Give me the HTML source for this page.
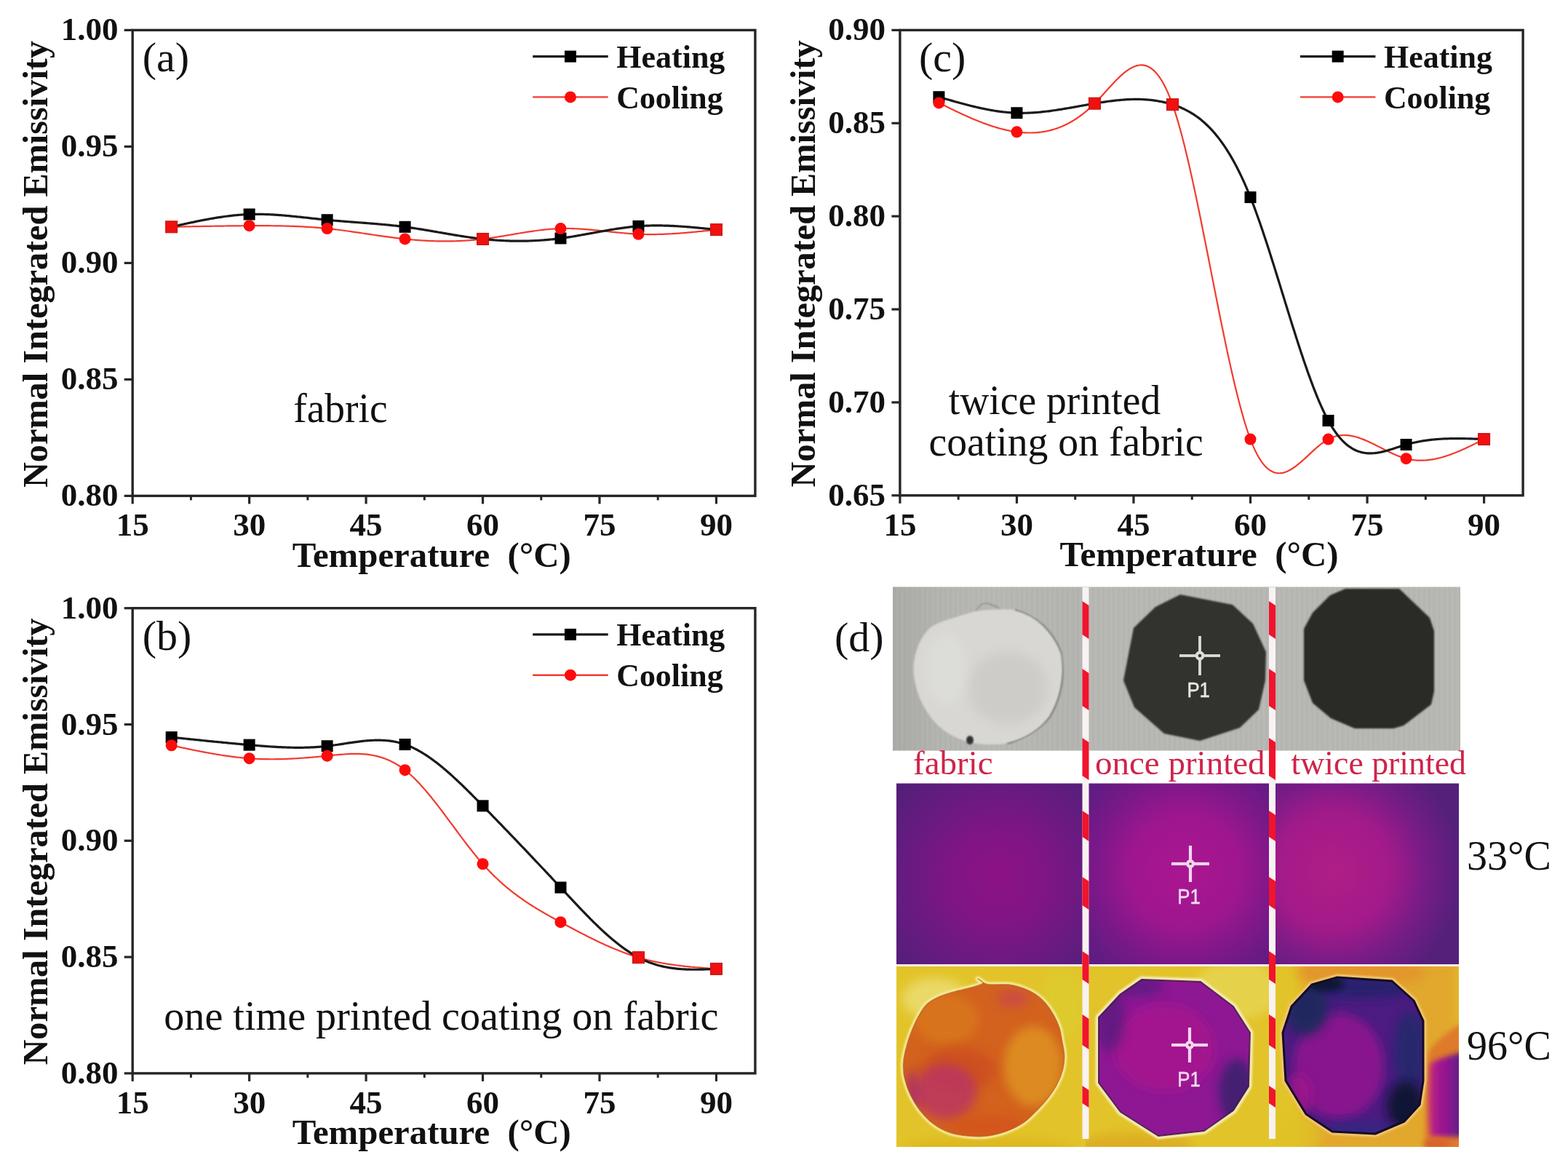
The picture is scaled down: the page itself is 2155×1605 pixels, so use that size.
<!DOCTYPE html>
<html><head><meta charset="utf-8"><title>Emissivity figure</title><style>
html,body{margin:0;padding:0;background:#fff;}
svg{display:block;}
.tk{font-family:"Liberation Serif", "Times New Roman", serif;font-weight:bold;font-size:45px;fill:#111;}
.xt{font-family:"Liberation Serif", "Times New Roman", serif;font-weight:bold;font-size:48px;fill:#111;}
.yt{font-family:"Liberation Serif", "Times New Roman", serif;font-weight:bold;font-size:48px;fill:#111;}
.pl{font-family:"Liberation Serif", "Times New Roman", serif;font-size:58px;fill:#111;}
.lg{font-family:"Liberation Serif", "Times New Roman", serif;font-weight:bold;font-size:45px;fill:#111;}
.nt{font-family:"Liberation Serif", "Times New Roman", serif;font-size:57px;fill:#111;}
.dl{font-family:"Liberation Serif", "Times New Roman", serif;font-size:47px;fill:#cf2449;}
.tl{font-family:"Liberation Serif", "Times New Roman", serif;font-size:56px;fill:#111;}
.p1{font-family:"Liberation Sans", Arial, sans-serif;font-size:30px;fill:#e6e6e6;stroke:#e6e6e6;stroke-width:0.5px;}
</style></head><body>
<svg width="2155" height="1605" viewBox="0 0 2155 1605">
<rect width="2155" height="1605" fill="#fff"/>
<path d="M235.68,311.80 L237.56,311.76 L239.43,311.73 L241.31,311.69 L243.19,311.65 L245.06,311.61 L246.94,311.58 L248.82,311.54 L250.69,311.50 L252.57,311.47 L254.45,311.43 L256.32,311.39 L258.20,311.36 L260.08,311.32 L261.95,311.28 L263.83,311.25 L265.71,311.21 L267.58,311.18 L269.46,311.14 L271.34,311.11 L273.21,311.07 L275.09,311.04 L276.97,311.01 L278.84,310.97 L280.72,310.94 L282.59,310.91 L284.47,310.88 L286.35,310.85 L288.22,310.82 L290.10,310.79 L291.98,310.76 L293.85,310.73 L295.73,310.70 L297.61,310.67 L299.48,310.64 L301.36,310.61 L303.24,310.59 L305.11,310.56 L306.99,310.54 L308.87,310.51 L310.74,310.49 L312.62,310.46 L314.50,310.44 L316.37,310.42 L318.25,310.40 L320.13,310.38 L322.00,310.36 L323.88,310.34 L325.75,310.32 L327.63,310.31 L329.51,310.29 L331.38,310.27 L333.26,310.26 L335.14,310.25 L337.01,310.23 L338.89,310.22 L340.77,310.21 L342.64,310.20 L344.52,310.19 L346.40,310.18 L348.27,310.18 L350.15,310.17 L352.03,310.17 L353.90,310.16 L355.78,310.16 L357.66,310.16 L359.53,310.17 L361.41,310.17 L363.29,310.18 L365.16,310.18 L367.04,310.19 L368.92,310.21 L370.79,310.22 L372.67,310.24 L374.54,310.26 L376.42,310.28 L378.30,310.30 L380.17,310.33 L382.05,310.36 L383.93,310.39 L385.80,310.43 L387.68,310.46 L389.56,310.51 L391.43,310.55 L393.31,310.60 L395.19,310.65 L397.06,310.71 L398.94,310.76 L400.82,310.83 L402.69,310.89 L404.57,310.96 L406.45,311.04 L408.32,311.12 L410.20,311.20 L412.08,311.28 L413.95,311.38 L415.83,311.47 L417.71,311.57 L419.58,311.67 L421.46,311.78 L423.33,311.90 L425.21,312.02 L427.09,312.14 L428.96,312.27 L430.84,312.40 L432.72,312.54 L434.59,312.68 L436.47,312.83 L438.35,312.99 L440.22,313.15 L442.10,313.32 L443.98,313.49 L445.85,313.67 L447.73,313.85 L449.61,314.04 L451.48,314.24 L453.36,314.44 L455.24,314.65 L457.11,314.86 L458.99,315.08 L460.87,315.30 L462.74,315.53 L464.62,315.76 L466.50,316.00 L468.37,316.24 L470.25,316.49 L472.12,316.73 L474.00,316.99 L475.88,317.24 L477.75,317.50 L479.63,317.77 L481.51,318.03 L483.38,318.30 L485.26,318.57 L487.14,318.84 L489.01,319.11 L490.89,319.39 L492.77,319.67 L494.64,319.94 L496.52,320.22 L498.40,320.50 L500.27,320.78 L502.15,321.07 L504.03,321.35 L505.90,321.63 L507.78,321.91 L509.66,322.19 L511.53,322.47 L513.41,322.75 L515.28,323.03 L517.16,323.30 L519.04,323.58 L520.91,323.85 L522.79,324.12 L524.67,324.39 L526.54,324.66 L528.42,324.92 L530.30,325.19 L532.17,325.45 L534.05,325.70 L535.93,325.95 L537.80,326.20 L539.68,326.45 L541.56,326.69 L543.43,326.92 L545.31,327.15 L547.19,327.38 L549.06,327.60 L550.94,327.82 L552.82,328.03 L554.69,328.24 L556.57,328.44 L558.45,328.63 L560.32,328.82 L562.20,329.01 L564.07,329.18 L565.95,329.35 L567.83,329.52 L569.70,329.67 L571.58,329.83 L573.46,329.97 L575.33,330.11 L577.21,330.24 L579.09,330.37 L580.96,330.49 L582.84,330.60 L584.72,330.71 L586.59,330.80 L588.47,330.90 L590.35,330.98 L592.22,331.06 L594.10,331.13 L595.98,331.20 L597.85,331.26 L599.73,331.31 L601.61,331.35 L603.48,331.39 L605.36,331.41 L607.24,331.44 L609.11,331.45 L610.99,331.46 L612.86,331.46 L614.74,331.45 L616.62,331.43 L618.49,331.41 L620.37,331.38 L622.25,331.34 L624.12,331.30 L626.00,331.24 L627.88,331.18 L629.75,331.11 L631.63,331.03 L633.51,330.95 L635.38,330.85 L637.26,330.75 L639.14,330.64 L641.01,330.52 L642.89,330.39 L644.77,330.26 L646.64,330.12 L648.52,329.96 L650.40,329.80 L652.27,329.64 L654.15,329.46 L656.03,329.27 L657.90,329.08 L659.78,328.87 L661.65,328.66 L663.53,328.44 L665.41,328.21 L667.28,327.97 L669.16,327.73 L671.04,327.47 L672.91,327.21 L674.79,326.94 L676.67,326.67 L678.54,326.39 L680.42,326.10 L682.30,325.81 L684.17,325.51 L686.05,325.21 L687.93,324.91 L689.80,324.60 L691.68,324.29 L693.56,323.98 L695.43,323.66 L697.31,323.35 L699.19,323.03 L701.06,322.71 L702.94,322.39 L704.82,322.07 L706.69,321.75 L708.57,321.43 L710.44,321.11 L712.32,320.79 L714.20,320.48 L716.07,320.17 L717.95,319.86 L719.83,319.55 L721.70,319.25 L723.58,318.95 L725.46,318.66 L727.33,318.37 L729.21,318.09 L731.09,317.81 L732.96,317.54 L734.84,317.27 L736.72,317.01 L738.59,316.76 L740.47,316.52 L742.35,316.28 L744.22,316.06 L746.10,315.84 L747.98,315.63 L749.85,315.44 L751.73,315.25 L753.60,315.07 L755.48,314.91 L757.36,314.76 L759.23,314.61 L761.11,314.48 L762.99,314.37 L764.86,314.27 L766.74,314.18 L768.62,314.10 L770.49,314.04 L772.37,313.99 L774.25,313.96 L776.12,313.95 L778.00,313.94 L779.88,313.95 L781.75,313.97 L783.63,314.01 L785.51,314.05 L787.38,314.11 L789.26,314.18 L791.14,314.26 L793.01,314.35 L794.89,314.45 L796.77,314.56 L798.64,314.67 L800.52,314.80 L802.39,314.93 L804.27,315.07 L806.15,315.22 L808.02,315.38 L809.90,315.54 L811.78,315.70 L813.65,315.88 L815.53,316.05 L817.41,316.23 L819.28,316.42 L821.16,316.61 L823.04,316.80 L824.91,316.99 L826.79,317.19 L828.67,317.39 L830.54,317.59 L832.42,317.79 L834.30,317.99 L836.17,318.19 L838.05,318.39 L839.93,318.59 L841.80,318.79 L843.68,318.98 L845.56,319.18 L847.43,319.37 L849.31,319.56 L851.18,319.74 L853.06,319.92 L854.94,320.10 L856.81,320.27 L858.69,320.44 L860.57,320.60 L862.44,320.75 L864.32,320.90 L866.20,321.04 L868.07,321.18 L869.95,321.30 L871.83,321.42 L873.70,321.53 L875.58,321.63 L877.46,321.72 L879.33,321.80 L881.21,321.87 L883.09,321.93 L884.96,321.98 L886.84,322.02 L888.72,322.05 L890.59,322.08 L892.47,322.09 L894.35,322.10 L896.22,322.10 L898.10,322.08 L899.97,322.06 L901.85,322.04 L903.73,322.00 L905.60,321.96 L907.48,321.91 L909.36,321.85 L911.23,321.79 L913.11,321.72 L914.99,321.64 L916.86,321.55 L918.74,321.46 L920.62,321.37 L922.49,321.26 L924.37,321.15 L926.25,321.04 L928.12,320.92 L930.00,320.79 L931.88,320.66 L933.75,320.53 L935.63,320.39 L937.51,320.24 L939.38,320.09 L941.26,319.94 L943.13,319.78 L945.01,319.62 L946.89,319.45 L948.76,319.29 L950.64,319.11 L952.52,318.94 L954.39,318.76 L956.27,318.58 L958.15,318.39 L960.02,318.21 L961.90,318.02 L963.78,317.83 L965.65,317.64 L967.53,317.44 L969.41,317.24 L971.28,317.05 L973.16,316.85 L975.04,316.65 L976.91,316.45 L978.79,316.25 L980.67,316.04 L982.54,315.84 L984.42,315.64" fill="none" stroke="#f23a2e" stroke-width="2.2" stroke-linejoin="round"/>
<path d="M235.68,311.80 L237.56,311.38 L239.43,310.96 L241.31,310.54 L243.19,310.12 L245.06,309.70 L246.94,309.28 L248.82,308.86 L250.69,308.45 L252.57,308.03 L254.45,307.62 L256.32,307.21 L258.20,306.80 L260.08,306.40 L261.95,306.00 L263.83,305.60 L265.71,305.20 L267.58,304.81 L269.46,304.42 L271.34,304.04 L273.21,303.66 L275.09,303.29 L276.97,302.91 L278.84,302.55 L280.72,302.19 L282.59,301.83 L284.47,301.48 L286.35,301.14 L288.22,300.80 L290.10,300.46 L291.98,300.14 L293.85,299.82 L295.73,299.50 L297.61,299.20 L299.48,298.90 L301.36,298.61 L303.24,298.32 L305.11,298.05 L306.99,297.78 L308.87,297.52 L310.74,297.27 L312.62,297.03 L314.50,296.79 L316.37,296.57 L318.25,296.36 L320.13,296.15 L322.00,295.96 L323.88,295.77 L325.75,295.60 L327.63,295.43 L329.51,295.28 L331.38,295.13 L333.26,295.00 L335.14,294.88 L337.01,294.77 L338.89,294.68 L340.77,294.59 L342.64,294.52 L344.52,294.46 L346.40,294.41 L348.27,294.38 L350.15,294.35 L352.03,294.34 L353.90,294.34 L355.78,294.34 L357.66,294.36 L359.53,294.39 L361.41,294.43 L363.29,294.48 L365.16,294.54 L367.04,294.61 L368.92,294.68 L370.79,294.77 L372.67,294.86 L374.54,294.96 L376.42,295.07 L378.30,295.18 L380.17,295.30 L382.05,295.43 L383.93,295.57 L385.80,295.71 L387.68,295.86 L389.56,296.01 L391.43,296.17 L393.31,296.34 L395.19,296.50 L397.06,296.68 L398.94,296.86 L400.82,297.04 L402.69,297.22 L404.57,297.41 L406.45,297.60 L408.32,297.80 L410.20,297.99 L412.08,298.19 L413.95,298.39 L415.83,298.60 L417.71,298.80 L419.58,299.00 L421.46,299.21 L423.33,299.42 L425.21,299.62 L427.09,299.83 L428.96,300.04 L430.84,300.24 L432.72,300.45 L434.59,300.65 L436.47,300.85 L438.35,301.05 L440.22,301.25 L442.10,301.45 L443.98,301.64 L445.85,301.83 L447.73,302.02 L449.61,302.20 L451.48,302.38 L453.36,302.56 L455.24,302.73 L457.11,302.90 L458.99,303.07 L460.87,303.23 L462.74,303.39 L464.62,303.55 L466.50,303.71 L468.37,303.86 L470.25,304.01 L472.12,304.16 L474.00,304.31 L475.88,304.46 L477.75,304.60 L479.63,304.75 L481.51,304.89 L483.38,305.03 L485.26,305.18 L487.14,305.32 L489.01,305.46 L490.89,305.60 L492.77,305.74 L494.64,305.88 L496.52,306.03 L498.40,306.17 L500.27,306.31 L502.15,306.45 L504.03,306.60 L505.90,306.75 L507.78,306.89 L509.66,307.04 L511.53,307.19 L513.41,307.35 L515.28,307.50 L517.16,307.66 L519.04,307.82 L520.91,307.98 L522.79,308.15 L524.67,308.32 L526.54,308.49 L528.42,308.66 L530.30,308.84 L532.17,309.02 L534.05,309.21 L535.93,309.40 L537.80,309.59 L539.68,309.79 L541.56,309.99 L543.43,310.20 L545.31,310.41 L547.19,310.63 L549.06,310.85 L550.94,311.08 L552.82,311.32 L554.69,311.55 L556.57,311.80 L558.45,312.05 L560.32,312.31 L562.20,312.57 L564.07,312.84 L565.95,313.11 L567.83,313.39 L569.70,313.67 L571.58,313.96 L573.46,314.25 L575.33,314.55 L577.21,314.85 L579.09,315.15 L580.96,315.45 L582.84,315.76 L584.72,316.07 L586.59,316.39 L588.47,316.70 L590.35,317.02 L592.22,317.34 L594.10,317.66 L595.98,317.98 L597.85,318.31 L599.73,318.63 L601.61,318.96 L603.48,319.28 L605.36,319.61 L607.24,319.93 L609.11,320.26 L610.99,320.58 L612.86,320.91 L614.74,321.23 L616.62,321.55 L618.49,321.87 L620.37,322.19 L622.25,322.50 L624.12,322.82 L626.00,323.13 L627.88,323.43 L629.75,323.74 L631.63,324.04 L633.51,324.34 L635.38,324.63 L637.26,324.92 L639.14,325.21 L641.01,325.49 L642.89,325.77 L644.77,326.04 L646.64,326.31 L648.52,326.57 L650.40,326.83 L652.27,327.08 L654.15,327.32 L656.03,327.56 L657.90,327.79 L659.78,328.01 L661.65,328.23 L663.53,328.44 L665.41,328.64 L667.28,328.84 L669.16,329.02 L671.04,329.20 L672.91,329.38 L674.79,329.54 L676.67,329.70 L678.54,329.85 L680.42,329.99 L682.30,330.12 L684.17,330.25 L686.05,330.36 L687.93,330.47 L689.80,330.58 L691.68,330.67 L693.56,330.76 L695.43,330.84 L697.31,330.91 L699.19,330.97 L701.06,331.03 L702.94,331.08 L704.82,331.12 L706.69,331.15 L708.57,331.18 L710.44,331.19 L712.32,331.20 L714.20,331.20 L716.07,331.20 L717.95,331.18 L719.83,331.16 L721.70,331.13 L723.58,331.09 L725.46,331.04 L727.33,330.99 L729.21,330.92 L731.09,330.85 L732.96,330.77 L734.84,330.69 L736.72,330.59 L738.59,330.49 L740.47,330.38 L742.35,330.26 L744.22,330.13 L746.10,329.99 L747.98,329.85 L749.85,329.70 L751.73,329.54 L753.60,329.37 L755.48,329.19 L757.36,329.01 L759.23,328.81 L761.11,328.61 L762.99,328.40 L764.86,328.18 L766.74,327.96 L768.62,327.72 L770.49,327.48 L772.37,327.23 L774.25,326.97 L776.12,326.70 L778.00,326.43 L779.88,326.15 L781.75,325.86 L783.63,325.57 L785.51,325.27 L787.38,324.96 L789.26,324.65 L791.14,324.33 L793.01,324.02 L794.89,323.69 L796.77,323.36 L798.64,323.03 L800.52,322.70 L802.39,322.36 L804.27,322.02 L806.15,321.68 L808.02,321.34 L809.90,321.00 L811.78,320.65 L813.65,320.31 L815.53,319.97 L817.41,319.62 L819.28,319.28 L821.16,318.93 L823.04,318.59 L824.91,318.25 L826.79,317.91 L828.67,317.58 L830.54,317.24 L832.42,316.91 L834.30,316.59 L836.17,316.26 L838.05,315.95 L839.93,315.63 L841.80,315.32 L843.68,315.02 L845.56,314.72 L847.43,314.43 L849.31,314.14 L851.18,313.86 L853.06,313.59 L854.94,313.32 L856.81,313.06 L858.69,312.81 L860.57,312.57 L862.44,312.34 L864.32,312.12 L866.20,311.90 L868.07,311.70 L869.95,311.51 L871.83,311.32 L873.70,311.15 L875.58,310.99 L877.46,310.84 L879.33,310.70 L881.21,310.58 L883.09,310.46 L884.96,310.36 L886.84,310.27 L888.72,310.19 L890.59,310.12 L892.47,310.06 L894.35,310.01 L896.22,309.97 L898.10,309.94 L899.97,309.92 L901.85,309.91 L903.73,309.91 L905.60,309.92 L907.48,309.93 L909.36,309.96 L911.23,309.99 L913.11,310.04 L914.99,310.09 L916.86,310.14 L918.74,310.21 L920.62,310.28 L922.49,310.36 L924.37,310.45 L926.25,310.54 L928.12,310.64 L930.00,310.75 L931.88,310.86 L933.75,310.98 L935.63,311.11 L937.51,311.24 L939.38,311.37 L941.26,311.51 L943.13,311.66 L945.01,311.81 L946.89,311.96 L948.76,312.12 L950.64,312.28 L952.52,312.45 L954.39,312.61 L956.27,312.79 L958.15,312.96 L960.02,313.14 L961.90,313.32 L963.78,313.51 L965.65,313.69 L967.53,313.88 L969.41,314.07 L971.28,314.27 L973.16,314.46 L975.04,314.65 L976.91,314.85 L978.79,315.05 L980.67,315.24 L982.54,315.44 L984.42,315.64" fill="none" stroke="#1a1a1a" stroke-width="3.2" stroke-linejoin="round"/>
<rect x="334.64" y="286.52" width="16" height="16" fill="#000"/>
<rect x="441.61" y="294.20" width="16" height="16" fill="#000"/>
<rect x="548.57" y="303.80" width="16" height="16" fill="#000"/>
<rect x="762.49" y="319.48" width="16" height="16" fill="#000"/>
<rect x="869.46" y="302.84" width="16" height="16" fill="#000"/>
<rect x="227.68" y="303.80" width="16" height="16" fill="#f01010" stroke="#c01010" stroke-width="1"/>
<circle cx="342.64" cy="310.20" r="8" fill="#ff0a0a"/>
<circle cx="449.61" cy="314.04" r="8" fill="#ff0a0a"/>
<circle cx="556.57" cy="328.44" r="8" fill="#ff0a0a"/>
<rect x="655.53" y="320.44" width="16" height="16" fill="#f01010" stroke="#c01010" stroke-width="1"/>
<circle cx="770.49" cy="314.04" r="8" fill="#ff0a0a"/>
<circle cx="877.46" cy="321.72" r="8" fill="#ff0a0a"/>
<rect x="976.42" y="307.64" width="16" height="16" fill="#f01010" stroke="#c01010" stroke-width="1"/>
<rect x="182.20" y="41.40" width="855.70" height="640.00" fill="none" stroke="#262626" stroke-width="3.4"/>
<line x1="170.70" y1="681.40" x2="182.20" y2="681.40" stroke="#262626" stroke-width="3.2"/>
<text x="162.40" y="695.40" text-anchor="end" class="tk">0.80</text>
<line x1="170.70" y1="521.40" x2="182.20" y2="521.40" stroke="#262626" stroke-width="3.2"/>
<text x="162.40" y="535.40" text-anchor="end" class="tk">0.85</text>
<line x1="170.70" y1="361.40" x2="182.20" y2="361.40" stroke="#262626" stroke-width="3.2"/>
<text x="162.40" y="375.40" text-anchor="end" class="tk">0.90</text>
<line x1="170.70" y1="201.40" x2="182.20" y2="201.40" stroke="#262626" stroke-width="3.2"/>
<text x="162.40" y="215.40" text-anchor="end" class="tk">0.95</text>
<line x1="170.70" y1="41.40" x2="182.20" y2="41.40" stroke="#262626" stroke-width="3.2"/>
<text x="162.40" y="55.40" text-anchor="end" class="tk">1.00</text>
<line x1="182.20" y1="681.40" x2="182.20" y2="692.40" stroke="#262626" stroke-width="3.2"/>
<text x="182.20" y="736.40" text-anchor="middle" class="tk">15</text>
<line x1="342.64" y1="681.40" x2="342.64" y2="692.40" stroke="#262626" stroke-width="3.2"/>
<text x="342.64" y="736.40" text-anchor="middle" class="tk">30</text>
<line x1="503.09" y1="681.40" x2="503.09" y2="692.40" stroke="#262626" stroke-width="3.2"/>
<text x="503.09" y="736.40" text-anchor="middle" class="tk">45</text>
<line x1="663.53" y1="681.40" x2="663.53" y2="692.40" stroke="#262626" stroke-width="3.2"/>
<text x="663.53" y="736.40" text-anchor="middle" class="tk">60</text>
<line x1="823.98" y1="681.40" x2="823.98" y2="692.40" stroke="#262626" stroke-width="3.2"/>
<text x="823.98" y="736.40" text-anchor="middle" class="tk">75</text>
<line x1="984.42" y1="681.40" x2="984.42" y2="692.40" stroke="#262626" stroke-width="3.2"/>
<text x="984.42" y="736.40" text-anchor="middle" class="tk">90</text>
<line x1="262.42" y1="681.40" x2="262.42" y2="687.40" stroke="#262626" stroke-width="3"/>
<line x1="422.87" y1="681.40" x2="422.87" y2="687.40" stroke="#262626" stroke-width="3"/>
<line x1="583.31" y1="681.40" x2="583.31" y2="687.40" stroke="#262626" stroke-width="3"/>
<line x1="743.75" y1="681.40" x2="743.75" y2="687.40" stroke="#262626" stroke-width="3"/>
<line x1="904.20" y1="681.40" x2="904.20" y2="687.40" stroke="#262626" stroke-width="3"/>
<text x="401.80" y="778.50" class="xt" xml:space="preserve" textLength="383" lengthAdjust="spacingAndGlyphs">Temperature  (°C)</text>
<text transform="translate(65.20,670.00) rotate(-90)" class="yt" textLength="614" lengthAdjust="spacingAndGlyphs">Normal Integrated Emissivity</text>
<text x="195.70" y="98.40" class="pl">(a)</text>
<line x1="732.20" y1="77.60" x2="835.70" y2="77.60" stroke="#1a1a1a" stroke-width="3.2"/>
<rect x="775.95" y="69.60" width="16" height="16" fill="#000"/>
<line x1="732.20" y1="133.40" x2="835.70" y2="133.40" stroke="#f23a2e" stroke-width="2.4"/>
<circle cx="783.95" cy="133.40" r="8" fill="#ff0a0a"/>
<text x="847.20" y="93.10" class="lg" textLength="149.2" lengthAdjust="spacingAndGlyphs">Heating</text>
<text x="847.20" y="148.90" class="lg" textLength="146.4" lengthAdjust="spacingAndGlyphs">Cooling</text>
<path d="M235.68,1024.26 L237.56,1024.67 L239.43,1025.07 L241.31,1025.47 L243.19,1025.87 L245.06,1026.27 L246.94,1026.67 L248.82,1027.07 L250.69,1027.47 L252.57,1027.87 L254.45,1028.26 L256.32,1028.66 L258.20,1029.05 L260.08,1029.44 L261.95,1029.83 L263.83,1030.21 L265.71,1030.60 L267.58,1030.98 L269.46,1031.35 L271.34,1031.73 L273.21,1032.10 L275.09,1032.47 L276.97,1032.83 L278.84,1033.19 L280.72,1033.55 L282.59,1033.91 L284.47,1034.26 L286.35,1034.60 L288.22,1034.94 L290.10,1035.28 L291.98,1035.61 L293.85,1035.94 L295.73,1036.26 L297.61,1036.57 L299.48,1036.88 L301.36,1037.19 L303.24,1037.49 L305.11,1037.78 L306.99,1038.07 L308.87,1038.35 L310.74,1038.63 L312.62,1038.89 L314.50,1039.16 L316.37,1039.41 L318.25,1039.66 L320.13,1039.90 L322.00,1040.13 L323.88,1040.36 L325.75,1040.57 L327.63,1040.78 L329.51,1040.99 L331.38,1041.18 L333.26,1041.37 L335.14,1041.54 L337.01,1041.71 L338.89,1041.87 L340.77,1042.02 L342.64,1042.16 L344.52,1042.29 L346.40,1042.42 L348.27,1042.53 L350.15,1042.63 L352.03,1042.73 L353.90,1042.82 L355.78,1042.90 L357.66,1042.97 L359.53,1043.03 L361.41,1043.08 L363.29,1043.13 L365.16,1043.16 L367.04,1043.19 L368.92,1043.21 L370.79,1043.23 L372.67,1043.24 L374.54,1043.23 L376.42,1043.23 L378.30,1043.21 L380.17,1043.19 L382.05,1043.16 L383.93,1043.13 L385.80,1043.08 L387.68,1043.04 L389.56,1042.98 L391.43,1042.92 L393.31,1042.85 L395.19,1042.78 L397.06,1042.70 L398.94,1042.62 L400.82,1042.53 L402.69,1042.43 L404.57,1042.33 L406.45,1042.23 L408.32,1042.11 L410.20,1042.00 L412.08,1041.88 L413.95,1041.75 L415.83,1041.62 L417.71,1041.49 L419.58,1041.35 L421.46,1041.21 L423.33,1041.06 L425.21,1040.91 L427.09,1040.75 L428.96,1040.60 L430.84,1040.43 L432.72,1040.27 L434.59,1040.10 L436.47,1039.93 L438.35,1039.75 L440.22,1039.57 L442.10,1039.39 L443.98,1039.21 L445.85,1039.02 L447.73,1038.84 L449.61,1038.65 L451.48,1038.45 L453.36,1038.26 L455.24,1038.07 L457.11,1037.87 L458.99,1037.68 L460.87,1037.50 L462.74,1037.31 L464.62,1037.14 L466.50,1036.97 L468.37,1036.80 L470.25,1036.65 L472.12,1036.51 L474.00,1036.37 L475.88,1036.25 L477.75,1036.14 L479.63,1036.05 L481.51,1035.97 L483.38,1035.91 L485.26,1035.87 L487.14,1035.84 L489.01,1035.84 L490.89,1035.85 L492.77,1035.89 L494.64,1035.95 L496.52,1036.04 L498.40,1036.15 L500.27,1036.29 L502.15,1036.45 L504.03,1036.64 L505.90,1036.87 L507.78,1037.12 L509.66,1037.41 L511.53,1037.72 L513.41,1038.08 L515.28,1038.47 L517.16,1038.89 L519.04,1039.35 L520.91,1039.85 L522.79,1040.39 L524.67,1040.97 L526.54,1041.59 L528.42,1042.26 L530.30,1042.97 L532.17,1043.72 L534.05,1044.53 L535.93,1045.37 L537.80,1046.27 L539.68,1047.22 L541.56,1048.21 L543.43,1049.26 L545.31,1050.36 L547.19,1051.52 L549.06,1052.73 L550.94,1053.99 L552.82,1055.32 L554.69,1056.70 L556.57,1058.14 L558.45,1059.64 L560.32,1061.20 L562.20,1062.82 L564.07,1064.49 L565.95,1066.22 L567.83,1068.00 L569.70,1069.83 L571.58,1071.70 L573.46,1073.63 L575.33,1075.60 L577.21,1077.61 L579.09,1079.66 L580.96,1081.76 L582.84,1083.89 L584.72,1086.06 L586.59,1088.26 L588.47,1090.50 L590.35,1092.76 L592.22,1095.06 L594.10,1097.38 L595.98,1099.74 L597.85,1102.11 L599.73,1104.51 L601.61,1106.93 L603.48,1109.37 L605.36,1111.82 L607.24,1114.29 L609.11,1116.78 L610.99,1119.28 L612.86,1121.79 L614.74,1124.30 L616.62,1126.83 L618.49,1129.36 L620.37,1131.89 L622.25,1134.43 L624.12,1136.97 L626.00,1139.50 L627.88,1142.03 L629.75,1144.56 L631.63,1147.08 L633.51,1149.59 L635.38,1152.09 L637.26,1154.58 L639.14,1157.06 L641.01,1159.52 L642.89,1161.97 L644.77,1164.40 L646.64,1166.80 L648.52,1169.19 L650.40,1171.55 L652.27,1173.88 L654.15,1176.19 L656.03,1178.47 L657.90,1180.72 L659.78,1182.93 L661.65,1185.11 L663.53,1187.26 L665.41,1189.37 L667.28,1191.44 L669.16,1193.48 L671.04,1195.48 L672.91,1197.44 L674.79,1199.37 L676.67,1201.27 L678.54,1203.13 L680.42,1204.97 L682.30,1206.77 L684.17,1208.53 L686.05,1210.27 L687.93,1211.98 L689.80,1213.66 L691.68,1215.31 L693.56,1216.93 L695.43,1218.53 L697.31,1220.09 L699.19,1221.64 L701.06,1223.15 L702.94,1224.64 L704.82,1226.11 L706.69,1227.56 L708.57,1228.98 L710.44,1230.38 L712.32,1231.75 L714.20,1233.11 L716.07,1234.45 L717.95,1235.76 L719.83,1237.06 L721.70,1238.34 L723.58,1239.60 L725.46,1240.84 L727.33,1242.07 L729.21,1243.28 L731.09,1244.47 L732.96,1245.65 L734.84,1246.82 L736.72,1247.97 L738.59,1249.11 L740.47,1250.24 L742.35,1251.36 L744.22,1252.46 L746.10,1253.56 L747.98,1254.65 L749.85,1255.72 L751.73,1256.79 L753.60,1257.85 L755.48,1258.91 L757.36,1259.95 L759.23,1261.00 L761.11,1262.03 L762.99,1263.06 L764.86,1264.09 L766.74,1265.12 L768.62,1266.14 L770.49,1267.16 L772.37,1268.18 L774.25,1269.20 L776.12,1270.21 L778.00,1271.22 L779.88,1272.23 L781.75,1273.24 L783.63,1274.25 L785.51,1275.25 L787.38,1276.25 L789.26,1277.25 L791.14,1278.24 L793.01,1279.23 L794.89,1280.21 L796.77,1281.19 L798.64,1282.16 L800.52,1283.13 L802.39,1284.10 L804.27,1285.06 L806.15,1286.01 L808.02,1286.96 L809.90,1287.90 L811.78,1288.84 L813.65,1289.76 L815.53,1290.69 L817.41,1291.60 L819.28,1292.51 L821.16,1293.41 L823.04,1294.30 L824.91,1295.19 L826.79,1296.06 L828.67,1296.93 L830.54,1297.79 L832.42,1298.64 L834.30,1299.48 L836.17,1300.31 L838.05,1301.13 L839.93,1301.94 L841.80,1302.75 L843.68,1303.54 L845.56,1304.32 L847.43,1305.09 L849.31,1305.85 L851.18,1306.59 L853.06,1307.33 L854.94,1308.05 L856.81,1308.77 L858.69,1309.47 L860.57,1310.15 L862.44,1310.83 L864.32,1311.49 L866.20,1312.14 L868.07,1312.77 L869.95,1313.39 L871.83,1314.00 L873.70,1314.60 L875.58,1315.17 L877.46,1315.74 L879.33,1316.29 L881.21,1316.82 L883.09,1317.34 L884.96,1317.85 L886.84,1318.34 L888.72,1318.82 L890.59,1319.29 L892.47,1319.74 L894.35,1320.18 L896.22,1320.61 L898.10,1321.03 L899.97,1321.43 L901.85,1321.82 L903.73,1322.20 L905.60,1322.57 L907.48,1322.93 L909.36,1323.28 L911.23,1323.61 L913.11,1323.94 L914.99,1324.26 L916.86,1324.56 L918.74,1324.86 L920.62,1325.15 L922.49,1325.43 L924.37,1325.70 L926.25,1325.96 L928.12,1326.22 L930.00,1326.47 L931.88,1326.70 L933.75,1326.94 L935.63,1327.16 L937.51,1327.38 L939.38,1327.59 L941.26,1327.80 L943.13,1328.00 L945.01,1328.19 L946.89,1328.38 L948.76,1328.56 L950.64,1328.74 L952.52,1328.91 L954.39,1329.08 L956.27,1329.25 L958.15,1329.41 L960.02,1329.57 L961.90,1329.72 L963.78,1329.87 L965.65,1330.02 L967.53,1330.17 L969.41,1330.31 L971.28,1330.45 L973.16,1330.59 L975.04,1330.73 L976.91,1330.86 L978.79,1331.00 L980.67,1331.13 L982.54,1331.27 L984.42,1331.40" fill="none" stroke="#f23a2e" stroke-width="2.2" stroke-linejoin="round"/>
<path d="M235.68,1013.08 L237.56,1013.27 L239.43,1013.47 L241.31,1013.66 L243.19,1013.86 L245.06,1014.05 L246.94,1014.25 L248.82,1014.45 L250.69,1014.64 L252.57,1014.83 L254.45,1015.03 L256.32,1015.22 L258.20,1015.42 L260.08,1015.61 L261.95,1015.81 L263.83,1016.00 L265.71,1016.19 L267.58,1016.38 L269.46,1016.58 L271.34,1016.77 L273.21,1016.96 L275.09,1017.15 L276.97,1017.34 L278.84,1017.53 L280.72,1017.72 L282.59,1017.91 L284.47,1018.10 L286.35,1018.29 L288.22,1018.48 L290.10,1018.67 L291.98,1018.85 L293.85,1019.04 L295.73,1019.23 L297.61,1019.41 L299.48,1019.60 L301.36,1019.78 L303.24,1019.96 L305.11,1020.15 L306.99,1020.33 L308.87,1020.51 L310.74,1020.69 L312.62,1020.87 L314.50,1021.05 L316.37,1021.23 L318.25,1021.40 L320.13,1021.58 L322.00,1021.76 L323.88,1021.93 L325.75,1022.10 L327.63,1022.28 L329.51,1022.45 L331.38,1022.62 L333.26,1022.79 L335.14,1022.96 L337.01,1023.13 L338.89,1023.29 L340.77,1023.46 L342.64,1023.62 L344.52,1023.79 L346.40,1023.95 L348.27,1024.11 L350.15,1024.27 L352.03,1024.43 L353.90,1024.58 L355.78,1024.74 L357.66,1024.89 L359.53,1025.03 L361.41,1025.18 L363.29,1025.32 L365.16,1025.46 L367.04,1025.60 L368.92,1025.73 L370.79,1025.86 L372.67,1025.98 L374.54,1026.10 L376.42,1026.21 L378.30,1026.33 L380.17,1026.43 L382.05,1026.53 L383.93,1026.63 L385.80,1026.72 L387.68,1026.80 L389.56,1026.88 L391.43,1026.96 L393.31,1027.02 L395.19,1027.08 L397.06,1027.14 L398.94,1027.19 L400.82,1027.23 L402.69,1027.26 L404.57,1027.29 L406.45,1027.30 L408.32,1027.32 L410.20,1027.32 L412.08,1027.31 L413.95,1027.30 L415.83,1027.28 L417.71,1027.25 L419.58,1027.21 L421.46,1027.16 L423.33,1027.10 L425.21,1027.04 L427.09,1026.96 L428.96,1026.87 L430.84,1026.78 L432.72,1026.67 L434.59,1026.56 L436.47,1026.43 L438.35,1026.29 L440.22,1026.14 L442.10,1025.98 L443.98,1025.81 L445.85,1025.62 L447.73,1025.43 L449.61,1025.22 L451.48,1025.00 L453.36,1024.77 L455.24,1024.53 L457.11,1024.28 L458.99,1024.03 L460.87,1023.76 L462.74,1023.49 L464.62,1023.21 L466.50,1022.93 L468.37,1022.65 L470.25,1022.36 L472.12,1022.07 L474.00,1021.78 L475.88,1021.49 L477.75,1021.20 L479.63,1020.92 L481.51,1020.63 L483.38,1020.35 L485.26,1020.08 L487.14,1019.81 L489.01,1019.55 L490.89,1019.30 L492.77,1019.06 L494.64,1018.83 L496.52,1018.60 L498.40,1018.39 L500.27,1018.20 L502.15,1018.01 L504.03,1017.84 L505.90,1017.69 L507.78,1017.55 L509.66,1017.43 L511.53,1017.33 L513.41,1017.25 L515.28,1017.19 L517.16,1017.15 L519.04,1017.13 L520.91,1017.14 L522.79,1017.17 L524.67,1017.23 L526.54,1017.31 L528.42,1017.42 L530.30,1017.56 L532.17,1017.73 L534.05,1017.92 L535.93,1018.15 L537.80,1018.41 L539.68,1018.70 L541.56,1019.03 L543.43,1019.39 L545.31,1019.79 L547.19,1020.23 L549.06,1020.70 L550.94,1021.21 L552.82,1021.76 L554.69,1022.35 L556.57,1022.99 L558.45,1023.66 L560.32,1024.38 L562.20,1025.14 L564.07,1025.94 L565.95,1026.77 L567.83,1027.65 L569.70,1028.57 L571.58,1029.52 L573.46,1030.51 L575.33,1031.54 L577.21,1032.60 L579.09,1033.70 L580.96,1034.83 L582.84,1035.99 L584.72,1037.19 L586.59,1038.41 L588.47,1039.67 L590.35,1040.96 L592.22,1042.28 L594.10,1043.63 L595.98,1045.01 L597.85,1046.41 L599.73,1047.84 L601.61,1049.30 L603.48,1050.78 L605.36,1052.29 L607.24,1053.82 L609.11,1055.38 L610.99,1056.95 L612.86,1058.55 L614.74,1060.17 L616.62,1061.81 L618.49,1063.47 L620.37,1065.15 L622.25,1066.85 L624.12,1068.56 L626.00,1070.30 L627.88,1072.04 L629.75,1073.81 L631.63,1075.58 L633.51,1077.38 L635.38,1079.18 L637.26,1081.00 L639.14,1082.83 L641.01,1084.67 L642.89,1086.52 L644.77,1088.38 L646.64,1090.25 L648.52,1092.13 L650.40,1094.01 L652.27,1095.90 L654.15,1097.80 L656.03,1099.71 L657.90,1101.61 L659.78,1103.53 L661.65,1105.44 L663.53,1107.36 L665.41,1109.28 L667.28,1111.20 L669.16,1113.12 L671.04,1115.05 L672.91,1116.98 L674.79,1118.91 L676.67,1120.84 L678.54,1122.77 L680.42,1124.70 L682.30,1126.64 L684.17,1128.58 L686.05,1130.52 L687.93,1132.46 L689.80,1134.40 L691.68,1136.34 L693.56,1138.29 L695.43,1140.24 L697.31,1142.19 L699.19,1144.14 L701.06,1146.09 L702.94,1148.05 L704.82,1150.01 L706.69,1151.96 L708.57,1153.92 L710.44,1155.89 L712.32,1157.85 L714.20,1159.81 L716.07,1161.78 L717.95,1163.75 L719.83,1165.72 L721.70,1167.69 L723.58,1169.67 L725.46,1171.64 L727.33,1173.62 L729.21,1175.60 L731.09,1177.58 L732.96,1179.56 L734.84,1181.54 L736.72,1183.53 L738.59,1185.52 L740.47,1187.50 L742.35,1189.49 L744.22,1191.49 L746.10,1193.48 L747.98,1195.47 L749.85,1197.47 L751.73,1199.47 L753.60,1201.47 L755.48,1203.47 L757.36,1205.47 L759.23,1207.48 L761.11,1209.48 L762.99,1211.49 L764.86,1213.50 L766.74,1215.51 L768.62,1217.53 L770.49,1219.54 L772.37,1221.56 L774.25,1223.57 L776.12,1225.59 L778.00,1227.60 L779.88,1229.62 L781.75,1231.63 L783.63,1233.64 L785.51,1235.65 L787.38,1237.65 L789.26,1239.65 L791.14,1241.65 L793.01,1243.63 L794.89,1245.61 L796.77,1247.59 L798.64,1249.55 L800.52,1251.51 L802.39,1253.46 L804.27,1255.39 L806.15,1257.32 L808.02,1259.24 L809.90,1261.14 L811.78,1263.03 L813.65,1264.90 L815.53,1266.77 L817.41,1268.61 L819.28,1270.45 L821.16,1272.26 L823.04,1274.06 L824.91,1275.84 L826.79,1277.60 L828.67,1279.35 L830.54,1281.07 L832.42,1282.77 L834.30,1284.45 L836.17,1286.11 L838.05,1287.75 L839.93,1289.37 L841.80,1290.96 L843.68,1292.52 L845.56,1294.06 L847.43,1295.58 L849.31,1297.07 L851.18,1298.53 L853.06,1299.96 L854.94,1301.37 L856.81,1302.74 L858.69,1304.09 L860.57,1305.40 L862.44,1306.69 L864.32,1307.94 L866.20,1309.16 L868.07,1310.34 L869.95,1311.49 L871.83,1312.61 L873.70,1313.69 L875.58,1314.73 L877.46,1315.74 L879.33,1316.71 L881.21,1317.64 L883.09,1318.54 L884.96,1319.40 L886.84,1320.23 L888.72,1321.02 L890.59,1321.78 L892.47,1322.50 L894.35,1323.20 L896.22,1323.86 L898.10,1324.49 L899.97,1325.09 L901.85,1325.66 L903.73,1326.20 L905.60,1326.71 L907.48,1327.20 L909.36,1327.66 L911.23,1328.09 L913.11,1328.50 L914.99,1328.88 L916.86,1329.23 L918.74,1329.57 L920.62,1329.88 L922.49,1330.16 L924.37,1330.43 L926.25,1330.68 L928.12,1330.90 L930.00,1331.10 L931.88,1331.29 L933.75,1331.46 L935.63,1331.61 L937.51,1331.74 L939.38,1331.85 L941.26,1331.95 L943.13,1332.04 L945.01,1332.11 L946.89,1332.16 L948.76,1332.21 L950.64,1332.24 L952.52,1332.26 L954.39,1332.27 L956.27,1332.26 L958.15,1332.25 L960.02,1332.23 L961.90,1332.20 L963.78,1332.16 L965.65,1332.11 L967.53,1332.06 L969.41,1332.00 L971.28,1331.94 L973.16,1331.87 L975.04,1331.80 L976.91,1331.72 L978.79,1331.64 L980.67,1331.56 L982.54,1331.48 L984.42,1331.40" fill="none" stroke="#1a1a1a" stroke-width="3.2" stroke-linejoin="round"/>
<rect x="227.68" y="1005.08" width="16" height="16" fill="#000"/>
<rect x="334.64" y="1015.62" width="16" height="16" fill="#000"/>
<rect x="441.61" y="1017.22" width="16" height="16" fill="#000"/>
<rect x="548.57" y="1014.99" width="16" height="16" fill="#000"/>
<rect x="655.53" y="1099.36" width="16" height="16" fill="#000"/>
<rect x="762.49" y="1211.54" width="16" height="16" fill="#000"/>
<circle cx="235.68" cy="1024.26" r="8" fill="#ff0a0a"/>
<circle cx="342.64" cy="1042.16" r="8" fill="#ff0a0a"/>
<circle cx="449.61" cy="1038.65" r="8" fill="#ff0a0a"/>
<circle cx="556.57" cy="1058.14" r="8" fill="#ff0a0a"/>
<circle cx="663.53" cy="1187.26" r="8" fill="#ff0a0a"/>
<circle cx="770.49" cy="1267.16" r="8" fill="#ff0a0a"/>
<rect x="869.46" y="1307.74" width="16" height="16" fill="#f01010" stroke="#c01010" stroke-width="1"/>
<rect x="976.42" y="1323.40" width="16" height="16" fill="#f01010" stroke="#c01010" stroke-width="1"/>
<rect x="182.20" y="835.70" width="855.70" height="639.20" fill="none" stroke="#262626" stroke-width="3.4"/>
<line x1="170.70" y1="1474.90" x2="182.20" y2="1474.90" stroke="#262626" stroke-width="3.2"/>
<text x="162.40" y="1488.90" text-anchor="end" class="tk">0.80</text>
<line x1="170.70" y1="1315.10" x2="182.20" y2="1315.10" stroke="#262626" stroke-width="3.2"/>
<text x="162.40" y="1329.10" text-anchor="end" class="tk">0.85</text>
<line x1="170.70" y1="1155.30" x2="182.20" y2="1155.30" stroke="#262626" stroke-width="3.2"/>
<text x="162.40" y="1169.30" text-anchor="end" class="tk">0.90</text>
<line x1="170.70" y1="995.50" x2="182.20" y2="995.50" stroke="#262626" stroke-width="3.2"/>
<text x="162.40" y="1009.50" text-anchor="end" class="tk">0.95</text>
<line x1="170.70" y1="835.70" x2="182.20" y2="835.70" stroke="#262626" stroke-width="3.2"/>
<text x="162.40" y="849.70" text-anchor="end" class="tk">1.00</text>
<line x1="182.20" y1="1474.90" x2="182.20" y2="1485.90" stroke="#262626" stroke-width="3.2"/>
<text x="182.20" y="1529.90" text-anchor="middle" class="tk">15</text>
<line x1="342.64" y1="1474.90" x2="342.64" y2="1485.90" stroke="#262626" stroke-width="3.2"/>
<text x="342.64" y="1529.90" text-anchor="middle" class="tk">30</text>
<line x1="503.09" y1="1474.90" x2="503.09" y2="1485.90" stroke="#262626" stroke-width="3.2"/>
<text x="503.09" y="1529.90" text-anchor="middle" class="tk">45</text>
<line x1="663.53" y1="1474.90" x2="663.53" y2="1485.90" stroke="#262626" stroke-width="3.2"/>
<text x="663.53" y="1529.90" text-anchor="middle" class="tk">60</text>
<line x1="823.98" y1="1474.90" x2="823.98" y2="1485.90" stroke="#262626" stroke-width="3.2"/>
<text x="823.98" y="1529.90" text-anchor="middle" class="tk">75</text>
<line x1="984.42" y1="1474.90" x2="984.42" y2="1485.90" stroke="#262626" stroke-width="3.2"/>
<text x="984.42" y="1529.90" text-anchor="middle" class="tk">90</text>
<line x1="262.42" y1="1474.90" x2="262.42" y2="1480.90" stroke="#262626" stroke-width="3"/>
<line x1="422.87" y1="1474.90" x2="422.87" y2="1480.90" stroke="#262626" stroke-width="3"/>
<line x1="583.31" y1="1474.90" x2="583.31" y2="1480.90" stroke="#262626" stroke-width="3"/>
<line x1="743.75" y1="1474.90" x2="743.75" y2="1480.90" stroke="#262626" stroke-width="3"/>
<line x1="904.20" y1="1474.90" x2="904.20" y2="1480.90" stroke="#262626" stroke-width="3"/>
<text x="401.80" y="1572.00" class="xt" xml:space="preserve" textLength="383" lengthAdjust="spacingAndGlyphs">Temperature  (°C)</text>
<text transform="translate(65.20,1463.50) rotate(-90)" class="yt" textLength="614" lengthAdjust="spacingAndGlyphs">Normal Integrated Emissivity</text>
<text x="195.70" y="892.70" class="pl">(b)</text>
<line x1="732.20" y1="871.90" x2="835.70" y2="871.90" stroke="#1a1a1a" stroke-width="3.2"/>
<rect x="775.95" y="863.90" width="16" height="16" fill="#000"/>
<line x1="732.20" y1="927.70" x2="835.70" y2="927.70" stroke="#f23a2e" stroke-width="2.4"/>
<circle cx="783.95" cy="927.70" r="8" fill="#ff0a0a"/>
<text x="847.20" y="887.40" class="lg" textLength="149.2" lengthAdjust="spacingAndGlyphs">Heating</text>
<text x="847.20" y="943.20" class="lg" textLength="146.4" lengthAdjust="spacingAndGlyphs">Cooling</text>
<path d="M1290.41,141.40 L1292.29,142.33 L1294.17,143.25 L1296.05,144.18 L1297.92,145.10 L1299.80,146.02 L1301.68,146.94 L1303.56,147.86 L1305.43,148.77 L1307.31,149.68 L1309.19,150.59 L1311.07,151.49 L1312.94,152.39 L1314.82,153.28 L1316.70,154.17 L1318.58,155.05 L1320.45,155.93 L1322.33,156.79 L1324.21,157.66 L1326.09,158.51 L1327.97,159.36 L1329.84,160.19 L1331.72,161.02 L1333.60,161.84 L1335.48,162.65 L1337.35,163.45 L1339.23,164.24 L1341.11,165.02 L1342.99,165.79 L1344.86,166.55 L1346.74,167.29 L1348.62,168.02 L1350.50,168.74 L1352.37,169.45 L1354.25,170.14 L1356.13,170.82 L1358.01,171.48 L1359.88,172.13 L1361.76,172.76 L1363.64,173.38 L1365.52,173.98 L1367.40,174.56 L1369.27,175.13 L1371.15,175.68 L1373.03,176.21 L1374.91,176.72 L1376.78,177.22 L1378.66,177.69 L1380.54,178.15 L1382.42,178.59 L1384.29,179.00 L1386.17,179.39 L1388.05,179.77 L1389.93,180.12 L1391.80,180.45 L1393.68,180.76 L1395.56,181.04 L1397.44,181.30 L1399.32,181.54 L1401.19,181.75 L1403.07,181.94 L1404.95,182.10 L1406.83,182.24 L1408.70,182.35 L1410.58,182.43 L1412.46,182.49 L1414.34,182.52 L1416.21,182.52 L1418.09,182.50 L1419.97,182.44 L1421.85,182.36 L1423.72,182.24 L1425.60,182.10 L1427.48,181.92 L1429.36,181.71 L1431.23,181.47 L1433.11,181.20 L1434.99,180.89 L1436.87,180.56 L1438.75,180.18 L1440.62,179.78 L1442.50,179.34 L1444.38,178.86 L1446.26,178.35 L1448.13,177.80 L1450.01,177.22 L1451.89,176.59 L1453.77,175.94 L1455.64,175.24 L1457.52,174.50 L1459.40,173.73 L1461.28,172.91 L1463.15,172.06 L1465.03,171.16 L1466.91,170.23 L1468.79,169.25 L1470.67,168.23 L1472.54,167.17 L1474.42,166.06 L1476.30,164.92 L1478.18,163.72 L1480.05,162.49 L1481.93,161.21 L1483.81,159.88 L1485.69,158.51 L1487.56,157.09 L1489.44,155.63 L1491.32,154.11 L1493.20,152.55 L1495.07,150.95 L1496.95,149.29 L1498.83,147.58 L1500.71,145.83 L1502.58,144.02 L1504.46,142.17 L1506.34,140.26 L1508.22,138.31 L1510.10,136.33 L1511.97,134.30 L1513.85,132.26 L1515.73,130.19 L1517.61,128.11 L1519.48,126.02 L1521.36,123.93 L1523.24,121.85 L1525.12,119.77 L1526.99,117.71 L1528.87,115.68 L1530.75,113.68 L1532.63,111.71 L1534.50,109.79 L1536.38,107.91 L1538.26,106.09 L1540.14,104.32 L1542.02,102.63 L1543.89,101.01 L1545.77,99.47 L1547.65,98.01 L1549.53,96.64 L1551.40,95.38 L1553.28,94.21 L1555.16,93.16 L1557.04,92.22 L1558.91,91.41 L1560.79,90.73 L1562.67,90.18 L1564.55,89.77 L1566.42,89.51 L1568.30,89.41 L1570.18,89.46 L1572.06,89.68 L1573.93,90.07 L1575.81,90.64 L1577.69,91.40 L1579.57,92.35 L1581.45,93.49 L1583.32,94.84 L1585.20,96.40 L1587.08,98.17 L1588.96,100.17 L1590.83,102.39 L1592.71,104.85 L1594.59,107.55 L1596.47,110.50 L1598.34,113.70 L1600.22,117.16 L1602.10,120.88 L1603.98,124.88 L1605.85,129.15 L1607.73,133.71 L1609.61,138.56 L1611.49,143.70 L1613.37,149.15 L1615.24,154.89 L1617.12,160.91 L1619.00,167.19 L1620.88,173.74 L1622.75,180.54 L1624.63,187.58 L1626.51,194.84 L1628.39,202.32 L1630.26,210.00 L1632.14,217.88 L1634.02,225.94 L1635.90,234.18 L1637.77,242.57 L1639.65,251.12 L1641.53,259.81 L1643.41,268.63 L1645.28,277.57 L1647.16,286.61 L1649.04,295.76 L1650.92,304.99 L1652.80,314.29 L1654.67,323.66 L1656.55,333.09 L1658.43,342.55 L1660.31,352.05 L1662.18,361.57 L1664.06,371.11 L1665.94,380.64 L1667.82,390.16 L1669.69,399.66 L1671.57,409.12 L1673.45,418.55 L1675.33,427.92 L1677.20,437.22 L1679.08,446.45 L1680.96,455.59 L1682.84,464.63 L1684.72,473.57 L1686.59,482.39 L1688.47,491.07 L1690.35,499.62 L1692.23,508.01 L1694.10,516.25 L1695.98,524.30 L1697.86,532.18 L1699.74,539.86 L1701.61,547.33 L1703.49,554.59 L1705.37,561.62 L1707.25,568.41 L1709.12,574.96 L1711.00,581.24 L1712.88,587.25 L1714.76,592.98 L1716.63,598.42 L1718.51,603.56 L1720.39,608.39 L1722.27,612.91 L1724.15,617.13 L1726.02,621.05 L1727.90,624.70 L1729.78,628.06 L1731.66,631.16 L1733.53,633.99 L1735.41,636.57 L1737.29,638.90 L1739.17,640.99 L1741.04,642.85 L1742.92,644.48 L1744.80,645.89 L1746.68,647.09 L1748.55,648.09 L1750.43,648.89 L1752.31,649.50 L1754.19,649.92 L1756.07,650.18 L1757.94,650.26 L1759.82,650.19 L1761.70,649.96 L1763.58,649.59 L1765.45,649.08 L1767.33,648.43 L1769.21,647.67 L1771.09,646.79 L1772.96,645.80 L1774.84,644.71 L1776.72,643.52 L1778.60,642.25 L1780.47,640.89 L1782.35,639.47 L1784.23,637.98 L1786.11,636.43 L1787.98,634.83 L1789.86,633.19 L1791.74,631.51 L1793.62,629.81 L1795.50,628.08 L1797.37,626.34 L1799.25,624.59 L1801.13,622.85 L1803.01,621.11 L1804.88,619.39 L1806.76,617.69 L1808.64,616.02 L1810.52,614.39 L1812.39,612.80 L1814.27,611.27 L1816.15,609.79 L1818.03,608.38 L1819.90,607.05 L1821.78,605.79 L1823.66,604.63 L1825.54,603.56 L1827.42,602.59 L1829.29,601.73 L1831.17,600.96 L1833.05,600.29 L1834.93,599.71 L1836.80,599.22 L1838.68,598.81 L1840.56,598.49 L1842.44,598.26 L1844.31,598.10 L1846.19,598.02 L1848.07,598.01 L1849.95,598.07 L1851.82,598.20 L1853.70,598.40 L1855.58,598.66 L1857.46,598.98 L1859.33,599.36 L1861.21,599.79 L1863.09,600.27 L1864.97,600.80 L1866.85,601.39 L1868.72,602.01 L1870.60,602.67 L1872.48,603.38 L1874.36,604.12 L1876.23,604.89 L1878.11,605.70 L1879.99,606.53 L1881.87,607.38 L1883.74,608.26 L1885.62,609.16 L1887.50,610.08 L1889.38,611.01 L1891.25,611.95 L1893.13,612.90 L1895.01,613.86 L1896.89,614.82 L1898.77,615.78 L1900.64,616.74 L1902.52,617.70 L1904.40,618.64 L1906.28,619.58 L1908.15,620.51 L1910.03,621.42 L1911.91,622.31 L1913.79,623.18 L1915.66,624.03 L1917.54,624.85 L1919.42,625.64 L1921.30,626.40 L1923.17,627.13 L1925.05,627.82 L1926.93,628.47 L1928.81,629.08 L1930.68,629.64 L1932.56,630.16 L1934.44,630.63 L1936.32,631.04 L1938.20,631.41 L1940.07,631.73 L1941.95,632.00 L1943.83,632.23 L1945.71,632.41 L1947.58,632.55 L1949.46,632.64 L1951.34,632.70 L1953.22,632.71 L1955.09,632.68 L1956.97,632.61 L1958.85,632.50 L1960.73,632.35 L1962.60,632.17 L1964.48,631.95 L1966.36,631.69 L1968.24,631.40 L1970.12,631.08 L1971.99,630.72 L1973.87,630.33 L1975.75,629.91 L1977.63,629.46 L1979.50,628.98 L1981.38,628.48 L1983.26,627.94 L1985.14,627.38 L1987.01,626.80 L1988.89,626.19 L1990.77,625.55 L1992.65,624.89 L1994.52,624.21 L1996.40,623.51 L1998.28,622.79 L2000.16,622.05 L2002.03,621.29 L2003.91,620.51 L2005.79,619.72 L2007.67,618.91 L2009.55,618.08 L2011.42,617.24 L2013.30,616.39 L2015.18,615.53 L2017.06,614.65 L2018.93,613.76 L2020.81,612.87 L2022.69,611.96 L2024.57,611.05 L2026.44,610.13 L2028.32,609.20 L2030.20,608.27 L2032.08,607.33 L2033.95,606.39 L2035.83,605.45 L2037.71,604.51 L2039.59,603.56" fill="none" stroke="#f23a2e" stroke-width="2.2" stroke-linejoin="round"/>
<path d="M1290.41,133.22 L1292.29,133.77 L1294.17,134.32 L1296.05,134.86 L1297.92,135.41 L1299.80,135.96 L1301.68,136.50 L1303.56,137.04 L1305.43,137.58 L1307.31,138.12 L1309.19,138.66 L1311.07,139.19 L1312.94,139.72 L1314.82,140.25 L1316.70,140.77 L1318.58,141.28 L1320.45,141.80 L1322.33,142.31 L1324.21,142.81 L1326.09,143.31 L1327.97,143.80 L1329.84,144.28 L1331.72,144.76 L1333.60,145.24 L1335.48,145.70 L1337.35,146.16 L1339.23,146.61 L1341.11,147.05 L1342.99,147.49 L1344.86,147.92 L1346.74,148.33 L1348.62,148.74 L1350.50,149.14 L1352.37,149.53 L1354.25,149.91 L1356.13,150.28 L1358.01,150.64 L1359.88,150.99 L1361.76,151.33 L1363.64,151.65 L1365.52,151.97 L1367.40,152.27 L1369.27,152.56 L1371.15,152.83 L1373.03,153.10 L1374.91,153.35 L1376.78,153.59 L1378.66,153.81 L1380.54,154.02 L1382.42,154.21 L1384.29,154.39 L1386.17,154.56 L1388.05,154.71 L1389.93,154.84 L1391.80,154.96 L1393.68,155.06 L1395.56,155.15 L1397.44,155.21 L1399.32,155.26 L1401.19,155.30 L1403.07,155.32 L1404.95,155.32 L1406.83,155.30 L1408.70,155.27 L1410.58,155.23 L1412.46,155.17 L1414.34,155.10 L1416.21,155.01 L1418.09,154.91 L1419.97,154.80 L1421.85,154.67 L1423.72,154.53 L1425.60,154.38 L1427.48,154.22 L1429.36,154.05 L1431.23,153.86 L1433.11,153.67 L1434.99,153.46 L1436.87,153.25 L1438.75,153.02 L1440.62,152.79 L1442.50,152.55 L1444.38,152.30 L1446.26,152.04 L1448.13,151.78 L1450.01,151.50 L1451.89,151.23 L1453.77,150.94 L1455.64,150.65 L1457.52,150.35 L1459.40,150.05 L1461.28,149.74 L1463.15,149.43 L1465.03,149.11 L1466.91,148.79 L1468.79,148.47 L1470.67,148.14 L1472.54,147.81 L1474.42,147.48 L1476.30,147.15 L1478.18,146.81 L1480.05,146.48 L1481.93,146.14 L1483.81,145.80 L1485.69,145.47 L1487.56,145.13 L1489.44,144.79 L1491.32,144.46 L1493.20,144.12 L1495.07,143.79 L1496.95,143.46 L1498.83,143.13 L1500.71,142.81 L1502.58,142.49 L1504.46,142.17 L1506.34,141.86 L1508.22,141.55 L1510.10,141.24 L1511.97,140.94 L1513.85,140.65 L1515.73,140.36 L1517.61,140.08 L1519.48,139.81 L1521.36,139.54 L1523.24,139.28 L1525.12,139.03 L1526.99,138.79 L1528.87,138.56 L1530.75,138.33 L1532.63,138.12 L1534.50,137.92 L1536.38,137.72 L1538.26,137.54 L1540.14,137.37 L1542.02,137.22 L1543.89,137.07 L1545.77,136.94 L1547.65,136.82 L1549.53,136.71 L1551.40,136.62 L1553.28,136.55 L1555.16,136.49 L1557.04,136.44 L1558.91,136.41 L1560.79,136.40 L1562.67,136.40 L1564.55,136.42 L1566.42,136.46 L1568.30,136.51 L1570.18,136.58 L1572.06,136.68 L1573.93,136.79 L1575.81,136.92 L1577.69,137.07 L1579.57,137.24 L1581.45,137.44 L1583.32,137.65 L1585.20,137.89 L1587.08,138.14 L1588.96,138.42 L1590.83,138.73 L1592.71,139.05 L1594.59,139.40 L1596.47,139.78 L1598.34,140.18 L1600.22,140.60 L1602.10,141.05 L1603.98,141.53 L1605.85,142.03 L1607.73,142.56 L1609.61,143.12 L1611.49,143.70 L1613.37,144.32 L1615.24,144.96 L1617.12,145.63 L1619.00,146.34 L1620.88,147.08 L1622.75,147.85 L1624.63,148.67 L1626.51,149.52 L1628.39,150.41 L1630.26,151.35 L1632.14,152.33 L1634.02,153.35 L1635.90,154.42 L1637.77,155.54 L1639.65,156.71 L1641.53,157.92 L1643.41,159.20 L1645.28,160.52 L1647.16,161.90 L1649.04,163.34 L1650.92,164.84 L1652.80,166.40 L1654.67,168.02 L1656.55,169.71 L1658.43,171.46 L1660.31,173.27 L1662.18,175.16 L1664.06,177.11 L1665.94,179.14 L1667.82,181.23 L1669.69,183.41 L1671.57,185.66 L1673.45,187.98 L1675.33,190.39 L1677.20,192.87 L1679.08,195.44 L1680.96,198.09 L1682.84,200.83 L1684.72,203.65 L1686.59,206.56 L1688.47,209.57 L1690.35,212.66 L1692.23,215.85 L1694.10,219.13 L1695.98,222.50 L1697.86,225.98 L1699.74,229.55 L1701.61,233.22 L1703.49,237.00 L1705.37,240.88 L1707.25,244.86 L1709.12,248.96 L1711.00,253.16 L1712.88,257.47 L1714.76,261.89 L1716.63,266.42 L1718.51,271.07 L1720.39,275.84 L1722.27,280.71 L1724.15,285.69 L1726.02,290.78 L1727.90,295.96 L1729.78,301.23 L1731.66,306.59 L1733.53,312.03 L1735.41,317.55 L1737.29,323.14 L1739.17,328.79 L1741.04,334.52 L1742.92,340.29 L1744.80,346.13 L1746.68,352.00 L1748.55,357.93 L1750.43,363.89 L1752.31,369.88 L1754.19,375.91 L1756.07,381.95 L1757.94,388.02 L1759.82,394.10 L1761.70,400.19 L1763.58,406.28 L1765.45,412.37 L1767.33,418.46 L1769.21,424.54 L1771.09,430.60 L1772.96,436.64 L1774.84,442.66 L1776.72,448.65 L1778.60,454.60 L1780.47,460.51 L1782.35,466.38 L1784.23,472.20 L1786.11,477.97 L1787.98,483.68 L1789.86,489.32 L1791.74,494.89 L1793.62,500.40 L1795.50,505.82 L1797.37,511.16 L1799.25,516.41 L1801.13,521.57 L1803.01,526.63 L1804.88,531.59 L1806.76,536.44 L1808.64,541.18 L1810.52,545.81 L1812.39,550.31 L1814.27,554.68 L1816.15,558.92 L1818.03,563.03 L1819.90,566.99 L1821.78,570.81 L1823.66,574.47 L1825.54,577.98 L1827.42,581.34 L1829.29,584.53 L1831.17,587.57 L1833.05,590.45 L1834.93,593.19 L1836.80,595.79 L1838.68,598.24 L1840.56,600.55 L1842.44,602.73 L1844.31,604.78 L1846.19,606.70 L1848.07,608.49 L1849.95,610.16 L1851.82,611.71 L1853.70,613.15 L1855.58,614.47 L1857.46,615.68 L1859.33,616.79 L1861.21,617.79 L1863.09,618.69 L1864.97,619.49 L1866.85,620.21 L1868.72,620.83 L1870.60,621.36 L1872.48,621.81 L1874.36,622.18 L1876.23,622.47 L1878.11,622.69 L1879.99,622.83 L1881.87,622.91 L1883.74,622.93 L1885.62,622.88 L1887.50,622.77 L1889.38,622.61 L1891.25,622.39 L1893.13,622.13 L1895.01,621.82 L1896.89,621.47 L1898.77,621.08 L1900.64,620.65 L1902.52,620.19 L1904.40,619.70 L1906.28,619.18 L1908.15,618.65 L1910.03,618.09 L1911.91,617.51 L1913.79,616.92 L1915.66,616.32 L1917.54,615.71 L1919.42,615.10 L1921.30,614.49 L1923.17,613.88 L1925.05,613.28 L1926.93,612.68 L1928.81,612.10 L1930.68,611.53 L1932.56,610.98 L1934.44,610.45 L1936.32,609.94 L1938.20,609.45 L1940.07,608.99 L1941.95,608.54 L1943.83,608.11 L1945.71,607.71 L1947.58,607.32 L1949.46,606.95 L1951.34,606.59 L1953.22,606.26 L1955.09,605.94 L1956.97,605.64 L1958.85,605.36 L1960.73,605.09 L1962.60,604.84 L1964.48,604.61 L1966.36,604.39 L1968.24,604.18 L1970.12,603.99 L1971.99,603.81 L1973.87,603.65 L1975.75,603.50 L1977.63,603.36 L1979.50,603.24 L1981.38,603.12 L1983.26,603.02 L1985.14,602.93 L1987.01,602.85 L1988.89,602.78 L1990.77,602.73 L1992.65,602.68 L1994.52,602.64 L1996.40,602.61 L1998.28,602.59 L2000.16,602.58 L2002.03,602.57 L2003.91,602.57 L2005.79,602.58 L2007.67,602.60 L2009.55,602.62 L2011.42,602.65 L2013.30,602.69 L2015.18,602.73 L2017.06,602.77 L2018.93,602.82 L2020.81,602.88 L2022.69,602.93 L2024.57,602.99 L2026.44,603.06 L2028.32,603.13 L2030.20,603.19 L2032.08,603.27 L2033.95,603.34 L2035.83,603.41 L2037.71,603.49 L2039.59,603.56" fill="none" stroke="#1a1a1a" stroke-width="3.2" stroke-linejoin="round"/>
<rect x="1282.41" y="125.22" width="16" height="16" fill="#000"/>
<rect x="1389.44" y="147.21" width="16" height="16" fill="#000"/>
<rect x="1710.51" y="263.07" width="16" height="16" fill="#000"/>
<rect x="1817.54" y="569.98" width="16" height="16" fill="#000"/>
<rect x="1924.56" y="602.98" width="16" height="16" fill="#000"/>
<circle cx="1290.41" cy="141.40" r="8" fill="#ff0a0a"/>
<circle cx="1397.44" cy="181.30" r="8" fill="#ff0a0a"/>
<rect x="1496.46" y="134.17" width="16" height="16" fill="#f01010" stroke="#c01010" stroke-width="1"/>
<rect x="1603.49" y="135.70" width="16" height="16" fill="#f01010" stroke="#c01010" stroke-width="1"/>
<circle cx="1718.51" cy="603.56" r="8" fill="#ff0a0a"/>
<circle cx="1825.54" cy="603.56" r="8" fill="#ff0a0a"/>
<circle cx="1932.56" cy="630.16" r="8" fill="#ff0a0a"/>
<rect x="2031.59" y="595.56" width="16" height="16" fill="#f01010" stroke="#c01010" stroke-width="1"/>
<rect x="1236.90" y="41.40" width="856.20" height="639.40" fill="none" stroke="#262626" stroke-width="3.4"/>
<line x1="1225.40" y1="680.80" x2="1236.90" y2="680.80" stroke="#262626" stroke-width="3.2"/>
<text x="1217.10" y="694.80" text-anchor="end" class="tk">0.65</text>
<line x1="1225.40" y1="552.92" x2="1236.90" y2="552.92" stroke="#262626" stroke-width="3.2"/>
<text x="1217.10" y="566.92" text-anchor="end" class="tk">0.70</text>
<line x1="1225.40" y1="425.04" x2="1236.90" y2="425.04" stroke="#262626" stroke-width="3.2"/>
<text x="1217.10" y="439.04" text-anchor="end" class="tk">0.75</text>
<line x1="1225.40" y1="297.16" x2="1236.90" y2="297.16" stroke="#262626" stroke-width="3.2"/>
<text x="1217.10" y="311.16" text-anchor="end" class="tk">0.80</text>
<line x1="1225.40" y1="169.28" x2="1236.90" y2="169.28" stroke="#262626" stroke-width="3.2"/>
<text x="1217.10" y="183.28" text-anchor="end" class="tk">0.85</text>
<line x1="1225.40" y1="41.40" x2="1236.90" y2="41.40" stroke="#262626" stroke-width="3.2"/>
<text x="1217.10" y="55.40" text-anchor="end" class="tk">0.90</text>
<line x1="1236.90" y1="680.80" x2="1236.90" y2="691.80" stroke="#262626" stroke-width="3.2"/>
<text x="1236.90" y="735.80" text-anchor="middle" class="tk">15</text>
<line x1="1397.44" y1="680.80" x2="1397.44" y2="691.80" stroke="#262626" stroke-width="3.2"/>
<text x="1397.44" y="735.80" text-anchor="middle" class="tk">30</text>
<line x1="1557.97" y1="680.80" x2="1557.97" y2="691.80" stroke="#262626" stroke-width="3.2"/>
<text x="1557.97" y="735.80" text-anchor="middle" class="tk">45</text>
<line x1="1718.51" y1="680.80" x2="1718.51" y2="691.80" stroke="#262626" stroke-width="3.2"/>
<text x="1718.51" y="735.80" text-anchor="middle" class="tk">60</text>
<line x1="1879.05" y1="680.80" x2="1879.05" y2="691.80" stroke="#262626" stroke-width="3.2"/>
<text x="1879.05" y="735.80" text-anchor="middle" class="tk">75</text>
<line x1="2039.59" y1="680.80" x2="2039.59" y2="691.80" stroke="#262626" stroke-width="3.2"/>
<text x="2039.59" y="735.80" text-anchor="middle" class="tk">90</text>
<line x1="1317.17" y1="680.80" x2="1317.17" y2="686.80" stroke="#262626" stroke-width="3"/>
<line x1="1477.71" y1="680.80" x2="1477.71" y2="686.80" stroke="#262626" stroke-width="3"/>
<line x1="1638.24" y1="680.80" x2="1638.24" y2="686.80" stroke="#262626" stroke-width="3"/>
<line x1="1798.78" y1="680.80" x2="1798.78" y2="686.80" stroke="#262626" stroke-width="3"/>
<line x1="1959.32" y1="680.80" x2="1959.32" y2="686.80" stroke="#262626" stroke-width="3"/>
<text x="1456.50" y="777.90" class="xt" xml:space="preserve" textLength="383" lengthAdjust="spacingAndGlyphs">Temperature  (°C)</text>
<text transform="translate(1119.90,669.40) rotate(-90)" class="yt" textLength="614" lengthAdjust="spacingAndGlyphs">Normal Integrated Emissivity</text>
<text x="1262.90" y="98.40" class="pl">(c)</text>
<line x1="1786.90" y1="77.60" x2="1890.40" y2="77.60" stroke="#1a1a1a" stroke-width="3.2"/>
<rect x="1830.65" y="69.60" width="16" height="16" fill="#000"/>
<line x1="1786.90" y1="133.40" x2="1890.40" y2="133.40" stroke="#f23a2e" stroke-width="2.4"/>
<circle cx="1838.65" cy="133.40" r="8" fill="#ff0a0a"/>
<text x="1901.90" y="93.10" class="lg" textLength="149.2" lengthAdjust="spacingAndGlyphs">Heating</text>
<text x="1901.90" y="148.90" class="lg" textLength="146.4" lengthAdjust="spacingAndGlyphs">Cooling</text>
<text x="403.2" y="579.8" class="nt" textLength="129.5" lengthAdjust="spacingAndGlyphs">fabric</text>
<text x="225.3" y="1415.2" class="nt" textLength="762" lengthAdjust="spacingAndGlyphs">one time printed coating on fabric</text>
<text x="1303.8" y="568.7" class="nt" textLength="291.4" lengthAdjust="spacingAndGlyphs">twice printed</text>
<text x="1276.5" y="626.2" class="nt" textLength="377.3" lengthAdjust="spacingAndGlyphs">coating on fabric</text>
<text x="2016" y="1195" class="tl">33°C</text>
<text x="2016" y="1455.5" class="tl">96°C</text>
<defs>
<filter id="bl1" x="-10%" y="-10%" width="120%" height="120%"><feGaussianBlur stdDeviation="1.2"/></filter>
<filter id="bl2" x="-20%" y="-20%" width="140%" height="140%"><feGaussianBlur stdDeviation="2.5"/></filter>
<filter id="bl6" x="-60%" y="-60%" width="220%" height="220%"><feGaussianBlur stdDeviation="7"/></filter>
<filter id="bl4" x="-60%" y="-60%" width="220%" height="220%"><feGaussianBlur stdDeviation="3.5"/></filter>
<pattern id="vlines" x="0" y="0" width="7" height="10" patternUnits="userSpaceOnUse"><rect width="7" height="10" fill="#b6b6b3"/><rect x="0" width="2" height="10" fill="#b9b9b6"/><rect x="4" width="1" height="10" fill="#b3b3b0"/></pattern>
<linearGradient id="gshade" x1="0" y1="0" x2="1" y2="0"><stop offset="0" stop-color="#000" stop-opacity="0.07"/><stop offset="0.25" stop-color="#000" stop-opacity="0.02"/><stop offset="0.5" stop-color="#000" stop-opacity="0"/><stop offset="1" stop-color="#000" stop-opacity="0.02"/></linearGradient>
<radialGradient id="pu1" gradientUnits="userSpaceOnUse" cx="1372.0" cy="1207.0" r="185.0"><stop offset="0" stop-color="#8c1285"/><stop offset="0.35" stop-color="#801585"/><stop offset="0.7" stop-color="#661b80"/><stop offset="1" stop-color="#531f78"/></radialGradient>
<radialGradient id="pu2" gradientUnits="userSpaceOnUse" cx="1629.0" cy="1197.0" r="168.0"><stop offset="0" stop-color="#aa1690"/><stop offset="0.45" stop-color="#9e168f"/><stop offset="0.72" stop-color="#7e188a"/><stop offset="1" stop-color="#601c82"/></radialGradient>
<radialGradient id="pu3" gradientUnits="userSpaceOnUse" cx="1832.0" cy="1197.0" r="178.0"><stop offset="0" stop-color="#b01e86"/><stop offset="0.45" stop-color="#a21a8a"/><stop offset="0.72" stop-color="#761c86"/><stop offset="1" stop-color="#54207a"/></radialGradient>
<radialGradient id="or1" gradientUnits="userSpaceOnUse" cx="1420.0" cy="1420.0" r="170.0"><stop offset="0" stop-color="#dc8c22"/><stop offset="0.35" stop-color="#d66a1e"/><stop offset="0.7" stop-color="#cf551f"/><stop offset="1" stop-color="#c4421f"/></radialGradient>
<radialGradient id="mg1" gradientUnits="userSpaceOnUse" cx="1290.0" cy="1500.0" r="90.0"><stop offset="0" stop-color="#b8237c"/><stop offset="0.6" stop-color="#bd2d6c"/><stop offset="1" stop-color="#c8441f"/></radialGradient>
<radialGradient id="pp2" gradientUnits="userSpaceOnUse" cx="1600.0" cy="1430.0" r="130.0"><stop offset="0" stop-color="#a21a96"/><stop offset="0.6" stop-color="#8f1993"/><stop offset="1" stop-color="#5a1d80"/></radialGradient>
<radialGradient id="pp3" gradientUnits="userSpaceOnUse" cx="1860.0" cy="1430.0" r="125.0"><stop offset="0" stop-color="#8e1a8c"/><stop offset="0.55" stop-color="#781b87"/><stop offset="1" stop-color="#28265e"/></radialGradient>
<linearGradient id="ye1" x1="0" y1="0" x2="1" y2="1"><stop offset="0" stop-color="#e3c72e"/><stop offset="0.5" stop-color="#e2c230"/><stop offset="1" stop-color="#dfbe22"/></linearGradient>
<linearGradient id="ye3" x1="0" y1="0" x2="1" y2="0"><stop offset="0" stop-color="#e0bf2a"/><stop offset="0.6" stop-color="#e1a82c"/><stop offset="1" stop-color="#e09a2a"/></linearGradient>
<linearGradient id="side3" x1="0" y1="0" x2="0" y2="1"><stop offset="0" stop-color="#e28a28" stop-opacity="0"/><stop offset="0.35" stop-color="#dd5a2a" stop-opacity="0.9"/><stop offset="0.6" stop-color="#b01f86"/><stop offset="1" stop-color="#5b1f86"/></linearGradient>
</defs>
<text x="1147" y="895" class="pl">(d)</text>
<rect x="1227.0" y="806.5" width="780.0" height="225.0" fill="url(#vlines)"/>
<rect x="1227.0" y="806.5" width="265.0" height="225.0" fill="url(#gshade)"/>
<path d="M1309.7,849.4 C1317.7,846.9 1329.7,842.4 1339.7,840.4 C1349.7,838.4 1359.6,837.6 1369.6,837.4 C1379.6,837.1 1391.3,837.4 1399.5,838.9 C1407.7,840.4 1412.7,842.4 1418.9,846.4 C1425.1,850.4 1431.7,857.1 1436.9,862.8 C1442.1,868.5 1446.6,874.8 1450.3,880.8 C1454.0,886.8 1457.5,892.2 1459.3,898.7 C1461.0,905.2 1461.0,912.5 1460.8,919.7 C1460.5,926.9 1459.3,934.6 1457.8,942.1 C1456.3,949.6 1454.5,957.3 1451.8,964.5 C1449.1,971.7 1445.6,979.0 1441.4,985.5 C1437.2,992.0 1432.1,998.4 1426.4,1003.4 C1420.7,1008.4 1414.0,1012.4 1407.0,1015.4 C1400.0,1018.4 1393.2,1020.1 1384.5,1021.4 C1375.8,1022.6 1364.1,1023.4 1354.6,1022.9 C1345.1,1022.4 1336.2,1020.9 1327.7,1018.4 C1319.2,1015.9 1311.3,1012.6 1303.8,1007.9 C1296.3,1003.2 1289.0,997.2 1282.8,990.0 C1276.6,982.8 1270.6,973.2 1266.4,964.5 C1262.2,955.8 1259.2,946.6 1257.4,937.6 C1255.7,928.6 1254.9,919.7 1255.9,910.7 C1256.9,901.7 1259.9,891.5 1263.4,883.8 C1266.9,876.1 1272.1,869.0 1276.8,864.3 C1281.5,859.5 1286.3,857.8 1291.8,855.3 C1297.3,852.8 1301.7,851.9 1309.7,849.4Z" fill="#d8d7d3" filter="url(#bl1)"/>
<ellipse cx="1385" cy="945" rx="55" ry="50" fill="#c9c6c1" opacity="0.6" filter="url(#bl6)"/>
<ellipse cx="1300" cy="920" rx="28" ry="50" fill="#e0e0dc" opacity="0.6" filter="url(#bl6)"/>
<path d="M1395,838 C1425,845 1448,868 1459,898 C1464,930 1458,960 1443,985 C1428,1005 1408,1016 1384,1022" fill="none" stroke="#6e6e6a" stroke-width="1.6" filter="url(#bl1)"/>
<path d="M1342,838 C1346,832 1350,828 1356,829 C1362,830 1368,833 1374,836" fill="none" stroke="#8a8a86" stroke-width="1.3" filter="url(#bl1)"/>
<ellipse cx="1333" cy="1017" rx="5" ry="6" fill="#333" filter="url(#bl1)"/>
<polygon points="1622.0,817.0 1694.0,831.0 1722.0,857.0 1740.0,896.0 1739.0,935.0 1730.0,975.0 1704.0,1000.0 1649.0,1018.0 1600.0,1008.0 1559.0,972.0 1544.0,935.0 1558.0,863.0 1588.0,834.0" fill="#30312d" filter="url(#bl1)"/>
<polygon points="1849.0,809.0 1923.0,809.0 1965.0,849.0 1971.0,867.0 1971.0,950.0 1967.0,968.0 1929.0,997.0 1915.0,1001.0 1862.0,1001.0 1829.0,987.0 1804.0,966.0 1792.0,935.0 1792.0,864.0 1804.0,842.0 1828.0,818.0" fill="#292926" filter="url(#bl1)"/>
<g stroke="#dcdcd8" stroke-width="3.8" fill="none"><line x1="1621.0" y1="901.0" x2="1643.5" y2="901.0"/><line x1="1654.5" y1="901.0" x2="1677.0" y2="901.0"/><line x1="1649.0" y1="874.0" x2="1649.0" y2="895.5"/><line x1="1649.0" y1="906.5" x2="1649.0" y2="928.0"/><circle cx="1649.0" cy="901.0" r="4.4" stroke-width="4.2"/></g>
<text x="1647.2" y="958" text-anchor="middle" class="p1" textLength="31.5" lengthAdjust="spacingAndGlyphs">P1</text>
<text x="1255" y="1064" class="dl">fabric</text>
<text x="1505" y="1064" class="dl">once printed</text>
<text x="1774.5" y="1064" class="dl" textLength="240.5" lengthAdjust="spacingAndGlyphs">twice printed</text>
<rect x="1232.0" y="1076.5" width="260.0" height="248.5" fill="url(#pu1)"/>
<rect x="1492.0" y="1076.5" width="256.5" height="248.5" fill="url(#pu2)"/>
<rect x="1748.5" y="1076.5" width="256.5" height="248.5" fill="url(#pu3)"/>
<g stroke="#f0d8ee" stroke-width="4.2" fill="none"><line x1="1610.0" y1="1187.0" x2="1631.0" y2="1187.0"/><line x1="1641.0" y1="1187.0" x2="1662.0" y2="1187.0"/><line x1="1636.0" y1="1162.0" x2="1636.0" y2="1182.0"/><line x1="1636.0" y1="1192.0" x2="1636.0" y2="1212.0"/><circle cx="1636.0" cy="1187.0" r="3.9" stroke-width="4.2"/></g>
<text x="1634" y="1241.5" text-anchor="middle" class="p1" style="fill:#f2d6ef;stroke:#f2d6ef" textLength="31.5" lengthAdjust="spacingAndGlyphs">P1</text>
<defs>
<clipPath id="cphf"><path d="M1344.0,1345.0 C1343.2,1344.9 1352.7,1349.2 1350.5,1351.4 C1348.3,1353.6 1337.2,1356.1 1330.6,1358.0 C1324.0,1359.9 1317.4,1361.0 1310.8,1362.9 C1304.2,1364.8 1297.0,1366.8 1291.0,1369.5 C1285.0,1372.2 1278.9,1375.6 1274.5,1379.4 C1270.1,1383.2 1267.9,1387.1 1264.6,1392.6 C1261.3,1398.1 1257.7,1405.2 1254.7,1412.4 C1251.7,1419.6 1248.7,1427.5 1246.5,1435.5 C1244.3,1443.5 1242.0,1452.6 1241.5,1460.3 C1241.0,1468.0 1241.5,1474.4 1243.2,1481.8 C1244.9,1489.2 1247.8,1497.5 1251.4,1504.9 C1255.0,1512.3 1259.4,1519.7 1264.6,1526.3 C1269.8,1532.9 1276.2,1539.5 1282.8,1544.5 C1289.4,1549.5 1296.2,1553.2 1304.2,1556.0 C1312.2,1558.8 1321.8,1560.2 1330.6,1561.0 C1339.4,1561.8 1348.2,1562.1 1357.0,1561.0 C1365.8,1559.9 1375.2,1557.4 1383.5,1554.4 C1391.8,1551.4 1400.0,1547.2 1406.6,1542.8 C1413.2,1538.4 1417.6,1533.5 1423.1,1528.0 C1428.6,1522.5 1434.6,1516.1 1439.6,1509.8 C1444.5,1503.5 1449.2,1496.9 1452.8,1490.0 C1456.4,1483.1 1459.3,1475.5 1461.0,1468.6 C1462.7,1461.7 1463.0,1455.4 1462.7,1448.8 C1462.4,1442.2 1460.5,1435.1 1459.4,1429.0 C1458.3,1422.9 1458.0,1418.2 1456.1,1412.4 C1454.2,1406.6 1451.2,1400.1 1447.9,1394.3 C1444.6,1388.5 1440.4,1382.5 1436.3,1377.8 C1432.2,1373.1 1428.0,1369.5 1423.1,1366.2 C1418.1,1362.9 1412.6,1360.2 1406.6,1358.0 C1400.5,1355.8 1393.4,1353.8 1386.8,1353.0 C1380.2,1352.2 1372.3,1353.2 1367.0,1353.0 C1361.7,1352.8 1358.8,1353.3 1355.0,1352.0 C1351.2,1350.7 1344.8,1345.1 1344.0,1345.0Z"/></clipPath>
<clipPath id="cph2"><polygon points="1569.0,1346.0 1650.0,1349.0 1695.0,1383.0 1718.0,1419.0 1716.0,1493.0 1695.0,1526.0 1655.0,1554.0 1592.0,1561.0 1540.0,1528.0 1510.0,1488.0 1510.0,1398.0 1540.0,1366.0"/></clipPath>
<clipPath id="cph3"><polygon points="1838.0,1343.0 1913.0,1348.0 1943.0,1375.0 1956.0,1403.0 1956.0,1485.0 1951.0,1518.0 1930.0,1541.0 1890.0,1558.0 1831.0,1555.0 1795.0,1531.0 1767.0,1485.0 1763.0,1419.0 1775.0,1383.0 1803.0,1353.0"/></clipPath>
<clipPath id="cpr1"><rect x="1232.0" y="1328.0" width="260.0" height="248.0"/></clipPath>
<clipPath id="cpr2"><rect x="1492.0" y="1328.0" width="256.5" height="248.0"/></clipPath>
<clipPath id="cpr3"><rect x="1748.5" y="1328.0" width="256.5" height="248.0"/></clipPath>
</defs>
<rect x="1232.0" y="1328.0" width="773.0" height="248.0" fill="#e2c42a"/>
<g clip-path="url(#cpr1)">
<ellipse cx="1285" cy="1372" rx="45" ry="28" fill="#ece07a" opacity="0.75" filter="url(#bl6)"/>
<ellipse cx="1460" cy="1380" rx="30" ry="50" fill="#ddcc2e" opacity="0.8" filter="url(#bl6)"/>
<ellipse cx="1360" cy="1578" rx="120" ry="14" fill="#dcb41e" opacity="0.8" filter="url(#bl6)"/>
</g>
<g clip-path="url(#cpr2)">
<ellipse cx="1700" cy="1360" rx="60" ry="40" fill="#e8d85a" opacity="0.7" filter="url(#bl6)"/>
<ellipse cx="1560" cy="1575" rx="80" ry="18" fill="#dba820" opacity="0.8" filter="url(#bl6)"/>
</g>
<g clip-path="url(#cpr3)">
<rect x="1790" y="1318.0" width="215" height="268.0" fill="#e2a62e" opacity="0.9" filter="url(#bl6)"/>
<ellipse cx="1870" cy="1336" rx="90" ry="20" fill="#e4922a" opacity="0.8" filter="url(#bl6)"/>
<ellipse cx="1775" cy="1560" rx="40" ry="30" fill="#e0c228" opacity="0.8" filter="url(#bl6)"/>
<linearGradient id="band3" x1="0" y1="0" x2="1" y2="0"><stop offset="0" stop-color="#cc3c6c"/><stop offset="0.18" stop-color="#b01a8c"/><stop offset="0.55" stop-color="#8c1890"/><stop offset="1" stop-color="#562080"/></linearGradient>
<path d="M2010,1405 C1990,1418 1972,1430 1962,1448 L1958,1585 L2010,1585 Z" fill="#de7a2a" filter="url(#bl4)"/>
<path d="M2012,1445 C1995,1450 1975,1455 1965,1462 C1962,1500 1962,1540 1966,1562 L2012,1562 Z" fill="url(#band3)" filter="url(#bl4)"/>
<ellipse cx="1975" cy="1572" rx="18" ry="8" fill="#d8642a" filter="url(#bl4)"/>
</g>
<path d="M1344.0,1345.0 C1343.2,1344.9 1352.7,1349.2 1350.5,1351.4 C1348.3,1353.6 1337.2,1356.1 1330.6,1358.0 C1324.0,1359.9 1317.4,1361.0 1310.8,1362.9 C1304.2,1364.8 1297.0,1366.8 1291.0,1369.5 C1285.0,1372.2 1278.9,1375.6 1274.5,1379.4 C1270.1,1383.2 1267.9,1387.1 1264.6,1392.6 C1261.3,1398.1 1257.7,1405.2 1254.7,1412.4 C1251.7,1419.6 1248.7,1427.5 1246.5,1435.5 C1244.3,1443.5 1242.0,1452.6 1241.5,1460.3 C1241.0,1468.0 1241.5,1474.4 1243.2,1481.8 C1244.9,1489.2 1247.8,1497.5 1251.4,1504.9 C1255.0,1512.3 1259.4,1519.7 1264.6,1526.3 C1269.8,1532.9 1276.2,1539.5 1282.8,1544.5 C1289.4,1549.5 1296.2,1553.2 1304.2,1556.0 C1312.2,1558.8 1321.8,1560.2 1330.6,1561.0 C1339.4,1561.8 1348.2,1562.1 1357.0,1561.0 C1365.8,1559.9 1375.2,1557.4 1383.5,1554.4 C1391.8,1551.4 1400.0,1547.2 1406.6,1542.8 C1413.2,1538.4 1417.6,1533.5 1423.1,1528.0 C1428.6,1522.5 1434.6,1516.1 1439.6,1509.8 C1444.5,1503.5 1449.2,1496.9 1452.8,1490.0 C1456.4,1483.1 1459.3,1475.5 1461.0,1468.6 C1462.7,1461.7 1463.0,1455.4 1462.7,1448.8 C1462.4,1442.2 1460.5,1435.1 1459.4,1429.0 C1458.3,1422.9 1458.0,1418.2 1456.1,1412.4 C1454.2,1406.6 1451.2,1400.1 1447.9,1394.3 C1444.6,1388.5 1440.4,1382.5 1436.3,1377.8 C1432.2,1373.1 1428.0,1369.5 1423.1,1366.2 C1418.1,1362.9 1412.6,1360.2 1406.6,1358.0 C1400.5,1355.8 1393.4,1353.8 1386.8,1353.0 C1380.2,1352.2 1372.3,1353.2 1367.0,1353.0 C1361.7,1352.8 1358.8,1353.3 1355.0,1352.0 C1351.2,1350.7 1344.8,1345.1 1344.0,1345.0Z" fill="none" stroke="#f6ea98" stroke-width="7" filter="url(#bl1)"/>
<g clip-path="url(#cphf)">
<path d="M1344.0,1345.0 C1343.2,1344.9 1352.7,1349.2 1350.5,1351.4 C1348.3,1353.6 1337.2,1356.1 1330.6,1358.0 C1324.0,1359.9 1317.4,1361.0 1310.8,1362.9 C1304.2,1364.8 1297.0,1366.8 1291.0,1369.5 C1285.0,1372.2 1278.9,1375.6 1274.5,1379.4 C1270.1,1383.2 1267.9,1387.1 1264.6,1392.6 C1261.3,1398.1 1257.7,1405.2 1254.7,1412.4 C1251.7,1419.6 1248.7,1427.5 1246.5,1435.5 C1244.3,1443.5 1242.0,1452.6 1241.5,1460.3 C1241.0,1468.0 1241.5,1474.4 1243.2,1481.8 C1244.9,1489.2 1247.8,1497.5 1251.4,1504.9 C1255.0,1512.3 1259.4,1519.7 1264.6,1526.3 C1269.8,1532.9 1276.2,1539.5 1282.8,1544.5 C1289.4,1549.5 1296.2,1553.2 1304.2,1556.0 C1312.2,1558.8 1321.8,1560.2 1330.6,1561.0 C1339.4,1561.8 1348.2,1562.1 1357.0,1561.0 C1365.8,1559.9 1375.2,1557.4 1383.5,1554.4 C1391.8,1551.4 1400.0,1547.2 1406.6,1542.8 C1413.2,1538.4 1417.6,1533.5 1423.1,1528.0 C1428.6,1522.5 1434.6,1516.1 1439.6,1509.8 C1444.5,1503.5 1449.2,1496.9 1452.8,1490.0 C1456.4,1483.1 1459.3,1475.5 1461.0,1468.6 C1462.7,1461.7 1463.0,1455.4 1462.7,1448.8 C1462.4,1442.2 1460.5,1435.1 1459.4,1429.0 C1458.3,1422.9 1458.0,1418.2 1456.1,1412.4 C1454.2,1406.6 1451.2,1400.1 1447.9,1394.3 C1444.6,1388.5 1440.4,1382.5 1436.3,1377.8 C1432.2,1373.1 1428.0,1369.5 1423.1,1366.2 C1418.1,1362.9 1412.6,1360.2 1406.6,1358.0 C1400.5,1355.8 1393.4,1353.8 1386.8,1353.0 C1380.2,1352.2 1372.3,1353.2 1367.0,1353.0 C1361.7,1352.8 1358.8,1353.3 1355.0,1352.0 C1351.2,1350.7 1344.8,1345.1 1344.0,1345.0Z" fill="#d3621e"/>
<ellipse cx="1300" cy="1400" rx="45" ry="35" fill="#d9781e" opacity="0.8" filter="url(#bl6)"/>
<ellipse cx="1420" cy="1465" rx="40" ry="55" fill="#dd9024" opacity="0.9" filter="url(#bl6)"/>
<ellipse cx="1392" cy="1372" rx="22" ry="12" fill="#c8405a" opacity="0.6" filter="url(#bl6)"/>
<ellipse cx="1318" cy="1470" rx="50" ry="30" fill="#cc4a22" opacity="0.7" filter="url(#bl6)"/>
<ellipse cx="1300" cy="1500" rx="42" ry="38" fill="#b8306a" opacity="0.75" filter="url(#bl6)"/>
<ellipse cx="1254" cy="1502" rx="9" ry="32" fill="#9a1a8a" opacity="0.6" filter="url(#bl6)"/>
<ellipse cx="1360" cy="1548" rx="55" ry="14" fill="#d4521e" opacity="0.8" filter="url(#bl6)"/>
</g>
<path d="M1344.0,1345.0 C1343.2,1344.9 1352.7,1349.2 1350.5,1351.4 C1348.3,1353.6 1337.2,1356.1 1330.6,1358.0 C1324.0,1359.9 1317.4,1361.0 1310.8,1362.9 C1304.2,1364.8 1297.0,1366.8 1291.0,1369.5 C1285.0,1372.2 1278.9,1375.6 1274.5,1379.4 C1270.1,1383.2 1267.9,1387.1 1264.6,1392.6 C1261.3,1398.1 1257.7,1405.2 1254.7,1412.4 C1251.7,1419.6 1248.7,1427.5 1246.5,1435.5 C1244.3,1443.5 1242.0,1452.6 1241.5,1460.3 C1241.0,1468.0 1241.5,1474.4 1243.2,1481.8 C1244.9,1489.2 1247.8,1497.5 1251.4,1504.9 C1255.0,1512.3 1259.4,1519.7 1264.6,1526.3 C1269.8,1532.9 1276.2,1539.5 1282.8,1544.5 C1289.4,1549.5 1296.2,1553.2 1304.2,1556.0 C1312.2,1558.8 1321.8,1560.2 1330.6,1561.0 C1339.4,1561.8 1348.2,1562.1 1357.0,1561.0 C1365.8,1559.9 1375.2,1557.4 1383.5,1554.4 C1391.8,1551.4 1400.0,1547.2 1406.6,1542.8 C1413.2,1538.4 1417.6,1533.5 1423.1,1528.0 C1428.6,1522.5 1434.6,1516.1 1439.6,1509.8 C1444.5,1503.5 1449.2,1496.9 1452.8,1490.0 C1456.4,1483.1 1459.3,1475.5 1461.0,1468.6 C1462.7,1461.7 1463.0,1455.4 1462.7,1448.8 C1462.4,1442.2 1460.5,1435.1 1459.4,1429.0 C1458.3,1422.9 1458.0,1418.2 1456.1,1412.4 C1454.2,1406.6 1451.2,1400.1 1447.9,1394.3 C1444.6,1388.5 1440.4,1382.5 1436.3,1377.8 C1432.2,1373.1 1428.0,1369.5 1423.1,1366.2 C1418.1,1362.9 1412.6,1360.2 1406.6,1358.0 C1400.5,1355.8 1393.4,1353.8 1386.8,1353.0 C1380.2,1352.2 1372.3,1353.2 1367.0,1353.0 C1361.7,1352.8 1358.8,1353.3 1355.0,1352.0 C1351.2,1350.7 1344.8,1345.1 1344.0,1345.0Z" fill="none" stroke="#b0581a" stroke-width="1.5" opacity="0.6"/>
<polygon points="1569.0,1346.0 1650.0,1349.0 1695.0,1383.0 1718.0,1419.0 1716.0,1493.0 1695.0,1526.0 1655.0,1554.0 1592.0,1561.0 1540.0,1528.0 1510.0,1488.0 1510.0,1398.0 1540.0,1366.0" fill="none" stroke="#f5eab0" stroke-width="9" stroke-linejoin="round" filter="url(#bl1)"/>
<g clip-path="url(#cph2)">
<polygon points="1569.0,1346.0 1650.0,1349.0 1695.0,1383.0 1718.0,1419.0 1716.0,1493.0 1695.0,1526.0 1655.0,1554.0 1592.0,1561.0 1540.0,1528.0 1510.0,1488.0 1510.0,1398.0 1540.0,1366.0" fill="#8e1894"/>
<ellipse cx="1600" cy="1440" rx="70" ry="60" fill="#a8168e" opacity="0.8" filter="url(#bl6)"/>
<ellipse cx="1700" cy="1500" rx="25" ry="45" fill="#32226a" opacity="0.8" filter="url(#bl6)"/>
<ellipse cx="1525" cy="1400" rx="20" ry="45" fill="#4a1e78" opacity="0.6" filter="url(#bl6)"/>
<ellipse cx="1560" cy="1355" rx="40" ry="14" fill="#4c1e7a" opacity="0.6" filter="url(#bl6)"/>
</g>
<polygon points="1569.0,1346.0 1650.0,1349.0 1695.0,1383.0 1718.0,1419.0 1716.0,1493.0 1695.0,1526.0 1655.0,1554.0 1592.0,1561.0 1540.0,1528.0 1510.0,1488.0 1510.0,1398.0 1540.0,1366.0" fill="none" stroke="#3a1040" stroke-width="2" stroke-linejoin="round" opacity="0.8"/>
<g stroke="#f6d6ef" stroke-width="4.2" fill="none"><line x1="1610.0" y1="1436.0" x2="1630.0" y2="1436.0"/><line x1="1640.0" y1="1436.0" x2="1660.0" y2="1436.0"/><line x1="1635.0" y1="1412.0" x2="1635.0" y2="1431.0"/><line x1="1635.0" y1="1441.0" x2="1635.0" y2="1460.0"/><circle cx="1635.0" cy="1436.0" r="3.9" stroke-width="4.2"/></g>
<text x="1634" y="1492.5" text-anchor="middle" class="p1" style="fill:#f2d6ef;stroke:#f2d6ef" textLength="31.5" lengthAdjust="spacingAndGlyphs">P1</text>
<polygon points="1838.0,1343.0 1913.0,1348.0 1943.0,1375.0 1956.0,1403.0 1956.0,1485.0 1951.0,1518.0 1930.0,1541.0 1890.0,1558.0 1831.0,1555.0 1795.0,1531.0 1767.0,1485.0 1763.0,1419.0 1775.0,1383.0 1803.0,1353.0" fill="none" stroke="#f2c670" stroke-width="9" stroke-linejoin="round" filter="url(#bl1)"/>
<g clip-path="url(#cph3)">
<polygon points="1838.0,1343.0 1913.0,1348.0 1943.0,1375.0 1956.0,1403.0 1956.0,1485.0 1951.0,1518.0 1930.0,1541.0 1890.0,1558.0 1831.0,1555.0 1795.0,1531.0 1767.0,1485.0 1763.0,1419.0 1775.0,1383.0 1803.0,1353.0" fill="#4c1c82"/>
<ellipse cx="1840" cy="1465" rx="62" ry="72" fill="#8c168e" opacity="0.95" filter="url(#bl6)"/>
<ellipse cx="1785" cy="1505" rx="18" ry="30" fill="#a2168c" opacity="0.8" filter="url(#bl6)"/>
<ellipse cx="1870" cy="1356" rx="75" ry="16" fill="#24246a" opacity="0.85" filter="url(#bl6)"/>
<ellipse cx="1795" cy="1385" rx="30" ry="38" fill="#1c2a5c" opacity="0.9" filter="url(#bl6)"/>
<ellipse cx="1822" cy="1352" rx="25" ry="10" fill="#0e1630" opacity="0.9" filter="url(#bl4)"/>
<ellipse cx="1938" cy="1445" rx="22" ry="55" fill="#24296a" opacity="0.85" filter="url(#bl6)"/>
<ellipse cx="1932" cy="1520" rx="26" ry="34" fill="#0e1230" opacity="0.95" filter="url(#bl6)"/>
<ellipse cx="1870" cy="1552" rx="55" ry="10" fill="#2e2a80" opacity="0.8" filter="url(#bl6)"/>
</g>
<polygon points="1838.0,1343.0 1913.0,1348.0 1943.0,1375.0 1956.0,1403.0 1956.0,1485.0 1951.0,1518.0 1930.0,1541.0 1890.0,1558.0 1831.0,1555.0 1795.0,1531.0 1767.0,1485.0 1763.0,1419.0 1775.0,1383.0 1803.0,1353.0" fill="none" stroke="#140c24" stroke-width="3" stroke-linejoin="round"/>
<rect x="1232.0" y="1325.0" width="773.0" height="3" fill="#fbeef2"/>
<rect x="1487.5" y="807" width="9" height="758" fill="#f8f2f2"/>
<polygon points="1487.5,826.0 1496.5,832.0 1496.5,878.0 1487.5,872.0" fill="#f0142c"/>
<polygon points="1487.5,919.0 1496.5,925.0 1496.5,976.0 1487.5,970.0" fill="#f0142c"/>
<polygon points="1487.5,1014.0 1496.5,1020.0 1496.5,1072.0 1487.5,1066.0" fill="#f0142c"/>
<polygon points="1487.5,1114.0 1496.5,1120.0 1496.5,1156.0 1487.5,1150.0" fill="#f0142c"/>
<polygon points="1487.5,1205.0 1496.5,1211.0 1496.5,1250.0 1487.5,1244.0" fill="#f0142c"/>
<polygon points="1487.5,1307.0 1496.5,1313.0 1496.5,1352.0 1487.5,1346.0" fill="#f0142c"/>
<polygon points="1487.5,1394.0 1496.5,1400.0 1496.5,1442.0 1487.5,1436.0" fill="#f0142c"/>
<polygon points="1487.5,1492.0 1496.5,1498.0 1496.5,1522.0 1487.5,1516.0" fill="#f0142c"/>
<rect x="1744.0" y="807" width="9" height="758" fill="#f8f2f2"/>
<polygon points="1744.0,826.0 1753.0,832.0 1753.0,878.0 1744.0,872.0" fill="#f0142c"/>
<polygon points="1744.0,919.0 1753.0,925.0 1753.0,976.0 1744.0,970.0" fill="#f0142c"/>
<polygon points="1744.0,1014.0 1753.0,1020.0 1753.0,1072.0 1744.0,1066.0" fill="#f0142c"/>
<polygon points="1744.0,1114.0 1753.0,1120.0 1753.0,1156.0 1744.0,1150.0" fill="#f0142c"/>
<polygon points="1744.0,1205.0 1753.0,1211.0 1753.0,1250.0 1744.0,1244.0" fill="#f0142c"/>
<polygon points="1744.0,1307.0 1753.0,1313.0 1753.0,1352.0 1744.0,1346.0" fill="#f0142c"/>
<polygon points="1744.0,1394.0 1753.0,1400.0 1753.0,1442.0 1744.0,1436.0" fill="#f0142c"/>
<polygon points="1744.0,1492.0 1753.0,1498.0 1753.0,1522.0 1744.0,1516.0" fill="#f0142c"/>
</svg></body></html>
